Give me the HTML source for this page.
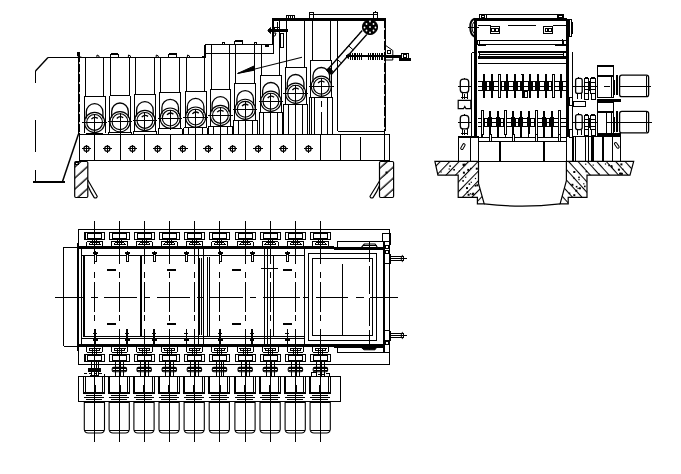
<!DOCTYPE html>
<html><head><meta charset="utf-8"><title>Drawing</title>
<style>
html,body{margin:0;padding:0;background:#fff;}
body{width:681px;height:474px;overflow:hidden;font-family:"Liberation Sans",sans-serif;}
svg{display:block;}
</style></head><body>
<svg width="681" height="474" viewBox="0 0 681 474">
<defs>
<pattern id="h1" width="8.2" height="8.2" patternUnits="userSpaceOnUse" patternTransform="rotate(-42)"><line x1="0" y1="2" x2="8.2" y2="2" stroke="#000" stroke-width="1.3"/></pattern>
<pattern id="h2" width="7" height="7" patternUnits="userSpaceOnUse" patternTransform="rotate(48)"><line x1="0" y1="0.5" x2="7" y2="0.5" stroke="#000" stroke-width="1.1"/></pattern>
<pattern id="h3" width="6.8" height="6.8" patternUnits="userSpaceOnUse" patternTransform="rotate(-46)"><line x1="0" y1="0.5" x2="6.8" y2="0.5" stroke="#000" stroke-width="1.1"/></pattern>
</defs>
<rect x="0" y="0" width="681" height="474" fill="#fff"/>
<line x1="48.00" y1="57.50" x2="205.00" y2="57.50" stroke="#000" stroke-width="1" shape-rendering="crispEdges"/>
<line x1="48.00" y1="57.50" x2="35.50" y2="71.00" stroke="#000" stroke-width="1.4"/>
<line x1="35.50" y1="71.00" x2="35.50" y2="83.00" stroke="#000" stroke-width="1" shape-rendering="crispEdges"/>
<line x1="35.50" y1="120.00" x2="35.50" y2="152.00" stroke="#000" stroke-width="1" shape-rendering="crispEdges"/>
<line x1="35.50" y1="170.00" x2="35.50" y2="182.00" stroke="#000" stroke-width="1" shape-rendering="crispEdges"/>
<line x1="33.00" y1="182.00" x2="65.00" y2="182.00" stroke="#000" stroke-width="2" shape-rendering="crispEdges"/>
<line x1="62.50" y1="181.50" x2="78.50" y2="134.00" stroke="#000" stroke-width="1.5"/>
<line x1="79.00" y1="52.00" x2="79.00" y2="134.50" stroke="#000" stroke-width="2" shape-rendering="crispEdges"/>
<path d="M77.5,52 L77.5,56 L82,57.5" fill="none" stroke="#000" stroke-width="1" />
<path d="M96.8,57.5 L97,55 L98.8,55.8 L99.2,57.5" fill="none" stroke="#000" stroke-width="1" />
<path d="M128.3,57.5 L128.5,55 L130.3,55.8 L130.7,57.5" fill="none" stroke="#000" stroke-width="1" />
<path d="M156.10000000000002,57.5 L156.3,55 L158.10000000000002,55.8 L158.5,57.5" fill="none" stroke="#000" stroke-width="1" />
<path d="M187.3,57.5 L187.5,55 L189.3,55.8 L189.7,57.5" fill="none" stroke="#000" stroke-width="1" />
<rect x="110.50" y="54.00" width="7.50" height="3.50" fill="none" stroke="#000" stroke-width="1" shape-rendering="crispEdges"/>
<line x1="110.50" y1="54.00" x2="118.00" y2="54.00" stroke="#000" stroke-width="1.5" shape-rendering="crispEdges"/>
<rect x="168.50" y="54.00" width="8.00" height="3.50" fill="none" stroke="#000" stroke-width="1" shape-rendering="crispEdges"/>
<line x1="168.50" y1="54.00" x2="176.50" y2="54.00" stroke="#000" stroke-width="1.5" shape-rendering="crispEdges"/>
<line x1="205.00" y1="44.50" x2="205.00" y2="57.50" stroke="#000" stroke-width="2" shape-rendering="crispEdges"/>
<line x1="201.50" y1="57.00" x2="205.00" y2="57.00" stroke="#000" stroke-width="2" shape-rendering="crispEdges"/>
<line x1="205.00" y1="44.50" x2="272.50" y2="44.50" stroke="#000" stroke-width="1" shape-rendering="crispEdges"/>
<line x1="205.00" y1="53.50" x2="273.50" y2="53.50" stroke="#000" stroke-width="1" shape-rendering="crispEdges"/>
<line x1="273.50" y1="44.50" x2="273.50" y2="53.50" stroke="#000" stroke-width="1" shape-rendering="crispEdges"/>
<line x1="211.50" y1="44.50" x2="211.50" y2="53.50" stroke="#000" stroke-width="1" shape-rendering="crispEdges"/>
<rect x="222.30" y="42.50" width="2.50" height="2.00" fill="none" stroke="#000" stroke-width="1" shape-rendering="crispEdges"/>
<rect x="234.50" y="41.00" width="8.00" height="3.50" fill="none" stroke="#000" stroke-width="1" shape-rendering="crispEdges"/>
<line x1="234.50" y1="41.00" x2="242.50" y2="41.00" stroke="#000" stroke-width="1.5" shape-rendering="crispEdges"/>
<rect x="254.30" y="42.30" width="2.50" height="2.20" fill="none" stroke="#000" stroke-width="1" shape-rendering="crispEdges"/>
<line x1="264.50" y1="46.20" x2="269.00" y2="46.20" stroke="#000" stroke-width="1.5" shape-rendering="crispEdges"/>
<line x1="272.50" y1="19.50" x2="272.50" y2="44.50" stroke="#000" stroke-width="2" shape-rendering="crispEdges"/>
<line x1="271.50" y1="19.50" x2="386.00" y2="19.50" stroke="#000" stroke-width="2.7" shape-rendering="crispEdges"/>
<line x1="385.00" y1="19.00" x2="385.00" y2="131.00" stroke="#000" stroke-width="2" shape-rendering="crispEdges"/>
<line x1="309.00" y1="14.70" x2="377.50" y2="14.70" stroke="#000" stroke-width="1" shape-rendering="crispEdges"/>
<rect x="309.00" y="12.50" width="4.00" height="6.50" fill="none" stroke="#000" stroke-width="1" shape-rendering="crispEdges"/>
<rect x="373.50" y="12.50" width="4.00" height="6.50" fill="none" stroke="#000" stroke-width="1" shape-rendering="crispEdges"/>
<line x1="375.50" y1="10.50" x2="375.50" y2="12.50" stroke="#000" stroke-width="1" shape-rendering="crispEdges"/>
<rect x="286.50" y="15.50" width="8.00" height="4.00" fill="none" stroke="#000" stroke-width="1" shape-rendering="crispEdges"/>
<line x1="286.50" y1="15.50" x2="294.50" y2="15.50" stroke="#000" stroke-width="1.5" shape-rendering="crispEdges"/>
<line x1="288.50" y1="15.50" x2="288.50" y2="19.50" stroke="#000" stroke-width="1" shape-rendering="crispEdges"/>
<line x1="290.50" y1="15.50" x2="290.50" y2="19.50" stroke="#000" stroke-width="1" shape-rendering="crispEdges"/>
<line x1="292.50" y1="15.50" x2="292.50" y2="19.50" stroke="#000" stroke-width="1" shape-rendering="crispEdges"/>
<line x1="268.00" y1="30.50" x2="288.00" y2="30.50" stroke="#000" stroke-width="2.5" shape-rendering="crispEdges"/>
<path d="M268,30.5 L270.5,27.5 L270.5,33.5 Z" fill="#000" stroke="#000" stroke-width="1" />
<rect x="280.30" y="33.00" width="3.50" height="14.00" fill="none" stroke="#000" stroke-width="1" shape-rendering="crispEdges"/>
<line x1="277.50" y1="22.00" x2="277.50" y2="30.00" stroke="#000" stroke-width="1" shape-rendering="crispEdges"/>
<line x1="279.00" y1="22.00" x2="279.00" y2="30.00" stroke="#000" stroke-width="1" shape-rendering="crispEdges"/>
<path d="M273.5,33 L276,33 L275,36 L273.5,36" fill="none" stroke="#000" stroke-width="1" />
<rect x="274.00" y="27.00" width="5.00" height="3.00" fill="none" stroke="#000" stroke-width="1" shape-rendering="crispEdges"/>
<line x1="85.30" y1="57.50" x2="85.30" y2="96.40" stroke="#000" stroke-width="1" shape-rendering="crispEdges"/>
<line x1="103.90" y1="57.50" x2="103.90" y2="96.40" stroke="#000" stroke-width="1" shape-rendering="crispEdges"/>
<line x1="84.20" y1="96.40" x2="105.00" y2="96.40" stroke="#000" stroke-width="1" shape-rendering="crispEdges"/>
<line x1="84.20" y1="96.40" x2="84.20" y2="133.20" stroke="#000" stroke-width="1" shape-rendering="crispEdges"/>
<line x1="105.00" y1="96.40" x2="105.00" y2="133.20" stroke="#000" stroke-width="1" shape-rendering="crispEdges"/>
<path d="M86.30,118.40 L86.30,112.00 A8.3,8.3 0 0 1 102.90,112.00 L102.90,118.40" fill="none" stroke="#000" stroke-width="1.3" />
<circle cx="94.60" cy="122.40" r="10.10" fill="none" stroke="#000" stroke-width="1.15"/>
<circle cx="94.60" cy="122.40" r="7.90" fill="none" stroke="#000" stroke-width="1.15"/>
<line x1="82.40" y1="122.40" x2="106.80" y2="122.40" stroke="#000" stroke-width="1" shape-rendering="crispEdges"/>
<line x1="94.60" y1="113.90" x2="94.60" y2="134.40" stroke="#000" stroke-width="1" shape-rendering="crispEdges"/>
<path d="M91.40,119.20 Q94.10,115.90 97.80,118.40" fill="none" stroke="#000" stroke-width="1.3" />
<line x1="86.00" y1="133.70" x2="103.00" y2="133.70" stroke="#000" stroke-width="2" shape-rendering="crispEdges"/>
<line x1="110.70" y1="57.50" x2="110.70" y2="95.70" stroke="#000" stroke-width="1" shape-rendering="crispEdges"/>
<line x1="129.30" y1="57.50" x2="129.30" y2="95.70" stroke="#000" stroke-width="1" shape-rendering="crispEdges"/>
<line x1="109.60" y1="95.70" x2="130.40" y2="95.70" stroke="#000" stroke-width="1" shape-rendering="crispEdges"/>
<line x1="109.60" y1="95.70" x2="109.60" y2="132.50" stroke="#000" stroke-width="1" shape-rendering="crispEdges"/>
<line x1="130.40" y1="95.70" x2="130.40" y2="132.50" stroke="#000" stroke-width="1" shape-rendering="crispEdges"/>
<path d="M111.70,117.70 L111.70,111.30 A8.3,8.3 0 0 1 128.30,111.30 L128.30,117.70" fill="none" stroke="#000" stroke-width="1.3" />
<circle cx="120.00" cy="121.70" r="10.10" fill="none" stroke="#000" stroke-width="1.15"/>
<circle cx="120.00" cy="121.70" r="7.90" fill="none" stroke="#000" stroke-width="1.15"/>
<line x1="107.80" y1="121.70" x2="132.20" y2="121.70" stroke="#000" stroke-width="1" shape-rendering="crispEdges"/>
<line x1="120.00" y1="113.20" x2="120.00" y2="133.70" stroke="#000" stroke-width="1" shape-rendering="crispEdges"/>
<path d="M116.80,118.50 Q119.50,115.20 123.20,117.70" fill="none" stroke="#000" stroke-width="1.3" />
<line x1="108.20" y1="132.50" x2="131.80" y2="132.50" stroke="#000" stroke-width="1" shape-rendering="crispEdges"/>
<line x1="108.20" y1="132.50" x2="108.20" y2="134.50" stroke="#000" stroke-width="1" shape-rendering="crispEdges"/>
<line x1="131.80" y1="132.50" x2="131.80" y2="134.50" stroke="#000" stroke-width="1" shape-rendering="crispEdges"/>
<line x1="135.60" y1="57.50" x2="135.60" y2="94.40" stroke="#000" stroke-width="1" shape-rendering="crispEdges"/>
<line x1="154.20" y1="57.50" x2="154.20" y2="94.40" stroke="#000" stroke-width="1" shape-rendering="crispEdges"/>
<line x1="134.50" y1="94.40" x2="155.30" y2="94.40" stroke="#000" stroke-width="1" shape-rendering="crispEdges"/>
<line x1="134.50" y1="94.40" x2="134.50" y2="131.20" stroke="#000" stroke-width="1" shape-rendering="crispEdges"/>
<line x1="155.30" y1="94.40" x2="155.30" y2="131.20" stroke="#000" stroke-width="1" shape-rendering="crispEdges"/>
<path d="M136.60,116.40 L136.60,110.00 A8.3,8.3 0 0 1 153.20,110.00 L153.20,116.40" fill="none" stroke="#000" stroke-width="1.3" />
<circle cx="144.90" cy="120.40" r="10.10" fill="none" stroke="#000" stroke-width="1.15"/>
<circle cx="144.90" cy="120.40" r="7.90" fill="none" stroke="#000" stroke-width="1.15"/>
<line x1="132.70" y1="120.40" x2="157.10" y2="120.40" stroke="#000" stroke-width="1" shape-rendering="crispEdges"/>
<line x1="144.90" y1="111.90" x2="144.90" y2="132.40" stroke="#000" stroke-width="1" shape-rendering="crispEdges"/>
<path d="M141.70,117.20 Q144.40,113.90 148.10,116.40" fill="none" stroke="#000" stroke-width="1.3" />
<line x1="133.10" y1="131.20" x2="156.70" y2="131.20" stroke="#000" stroke-width="1" shape-rendering="crispEdges"/>
<line x1="133.10" y1="131.20" x2="133.10" y2="134.50" stroke="#000" stroke-width="1" shape-rendering="crispEdges"/>
<line x1="156.70" y1="131.20" x2="156.70" y2="134.50" stroke="#000" stroke-width="1" shape-rendering="crispEdges"/>
<line x1="160.90" y1="57.50" x2="160.90" y2="92.10" stroke="#000" stroke-width="1" shape-rendering="crispEdges"/>
<line x1="179.50" y1="57.50" x2="179.50" y2="92.10" stroke="#000" stroke-width="1" shape-rendering="crispEdges"/>
<line x1="159.80" y1="92.10" x2="180.60" y2="92.10" stroke="#000" stroke-width="1" shape-rendering="crispEdges"/>
<line x1="159.80" y1="92.10" x2="159.80" y2="128.90" stroke="#000" stroke-width="1" shape-rendering="crispEdges"/>
<line x1="180.60" y1="92.10" x2="180.60" y2="128.90" stroke="#000" stroke-width="1" shape-rendering="crispEdges"/>
<path d="M161.90,114.10 L161.90,107.70 A8.3,8.3 0 0 1 178.50,107.70 L178.50,114.10" fill="none" stroke="#000" stroke-width="1.3" />
<circle cx="170.20" cy="118.10" r="10.10" fill="none" stroke="#000" stroke-width="1.15"/>
<circle cx="170.20" cy="118.10" r="7.90" fill="none" stroke="#000" stroke-width="1.15"/>
<line x1="158.00" y1="118.10" x2="182.40" y2="118.10" stroke="#000" stroke-width="1" shape-rendering="crispEdges"/>
<line x1="170.20" y1="109.60" x2="170.20" y2="130.10" stroke="#000" stroke-width="1" shape-rendering="crispEdges"/>
<path d="M167.00,114.90 Q169.70,111.60 173.40,114.10" fill="none" stroke="#000" stroke-width="1.3" />
<line x1="158.40" y1="128.90" x2="182.00" y2="128.90" stroke="#000" stroke-width="1" shape-rendering="crispEdges"/>
<line x1="158.40" y1="128.90" x2="158.40" y2="134.50" stroke="#000" stroke-width="1" shape-rendering="crispEdges"/>
<line x1="182.00" y1="128.90" x2="182.00" y2="134.50" stroke="#000" stroke-width="1" shape-rendering="crispEdges"/>
<line x1="186.30" y1="57.50" x2="186.30" y2="91.10" stroke="#000" stroke-width="1" shape-rendering="crispEdges"/>
<line x1="204.90" y1="57.50" x2="204.90" y2="91.10" stroke="#000" stroke-width="1" shape-rendering="crispEdges"/>
<line x1="185.20" y1="91.10" x2="206.00" y2="91.10" stroke="#000" stroke-width="1" shape-rendering="crispEdges"/>
<line x1="185.20" y1="91.10" x2="185.20" y2="127.90" stroke="#000" stroke-width="1" shape-rendering="crispEdges"/>
<line x1="206.00" y1="91.10" x2="206.00" y2="127.90" stroke="#000" stroke-width="1" shape-rendering="crispEdges"/>
<path d="M187.30,113.10 L187.30,106.70 A8.3,8.3 0 0 1 203.90,106.70 L203.90,113.10" fill="none" stroke="#000" stroke-width="1.3" />
<circle cx="195.60" cy="117.10" r="10.10" fill="none" stroke="#000" stroke-width="1.15"/>
<circle cx="195.60" cy="117.10" r="7.90" fill="none" stroke="#000" stroke-width="1.15"/>
<line x1="183.40" y1="117.10" x2="207.80" y2="117.10" stroke="#000" stroke-width="1" shape-rendering="crispEdges"/>
<line x1="195.60" y1="108.60" x2="195.60" y2="129.10" stroke="#000" stroke-width="1" shape-rendering="crispEdges"/>
<path d="M192.40,113.90 Q195.10,110.60 198.80,113.10" fill="none" stroke="#000" stroke-width="1.3" />
<line x1="183.80" y1="127.90" x2="207.40" y2="127.90" stroke="#000" stroke-width="1" shape-rendering="crispEdges"/>
<line x1="183.80" y1="127.90" x2="183.80" y2="134.50" stroke="#000" stroke-width="1" shape-rendering="crispEdges"/>
<line x1="207.40" y1="127.90" x2="207.40" y2="134.50" stroke="#000" stroke-width="1" shape-rendering="crispEdges"/>
<line x1="188.60" y1="127.90" x2="188.60" y2="134.50" stroke="#000" stroke-width="1" shape-rendering="crispEdges"/>
<line x1="195.60" y1="127.90" x2="195.60" y2="134.50" stroke="#000" stroke-width="1" shape-rendering="crispEdges"/>
<line x1="202.60" y1="127.90" x2="202.60" y2="134.50" stroke="#000" stroke-width="1" shape-rendering="crispEdges"/>
<line x1="211.10" y1="44.50" x2="211.10" y2="89.40" stroke="#000" stroke-width="1" shape-rendering="crispEdges"/>
<line x1="229.70" y1="44.50" x2="229.70" y2="89.40" stroke="#000" stroke-width="1" shape-rendering="crispEdges"/>
<line x1="210.00" y1="89.40" x2="230.80" y2="89.40" stroke="#000" stroke-width="1" shape-rendering="crispEdges"/>
<line x1="210.00" y1="89.40" x2="210.00" y2="126.20" stroke="#000" stroke-width="1" shape-rendering="crispEdges"/>
<line x1="230.80" y1="89.40" x2="230.80" y2="126.20" stroke="#000" stroke-width="1" shape-rendering="crispEdges"/>
<path d="M212.10,111.40 L212.10,105.00 A8.3,8.3 0 0 1 228.70,105.00 L228.70,111.40" fill="none" stroke="#000" stroke-width="1.3" />
<circle cx="220.40" cy="115.40" r="10.10" fill="none" stroke="#000" stroke-width="1.15"/>
<circle cx="220.40" cy="115.40" r="7.90" fill="none" stroke="#000" stroke-width="1.15"/>
<line x1="208.20" y1="115.40" x2="232.60" y2="115.40" stroke="#000" stroke-width="1" shape-rendering="crispEdges"/>
<line x1="220.40" y1="106.90" x2="220.40" y2="127.40" stroke="#000" stroke-width="1" shape-rendering="crispEdges"/>
<path d="M217.20,112.20 Q219.90,108.90 223.60,111.40" fill="none" stroke="#000" stroke-width="1.3" />
<line x1="208.60" y1="126.20" x2="232.20" y2="126.20" stroke="#000" stroke-width="1" shape-rendering="crispEdges"/>
<line x1="208.60" y1="126.20" x2="208.60" y2="134.50" stroke="#000" stroke-width="1" shape-rendering="crispEdges"/>
<line x1="232.20" y1="126.20" x2="232.20" y2="134.50" stroke="#000" stroke-width="1" shape-rendering="crispEdges"/>
<line x1="213.40" y1="126.20" x2="213.40" y2="134.50" stroke="#000" stroke-width="1" shape-rendering="crispEdges"/>
<line x1="220.40" y1="126.20" x2="220.40" y2="134.50" stroke="#000" stroke-width="1" shape-rendering="crispEdges"/>
<line x1="227.40" y1="126.20" x2="227.40" y2="134.50" stroke="#000" stroke-width="1" shape-rendering="crispEdges"/>
<line x1="235.90" y1="44.50" x2="235.90" y2="83.30" stroke="#000" stroke-width="1" shape-rendering="crispEdges"/>
<line x1="254.50" y1="44.50" x2="254.50" y2="83.30" stroke="#000" stroke-width="1" shape-rendering="crispEdges"/>
<line x1="234.80" y1="83.30" x2="255.60" y2="83.30" stroke="#000" stroke-width="1" shape-rendering="crispEdges"/>
<line x1="234.80" y1="83.30" x2="234.80" y2="120.10" stroke="#000" stroke-width="1" shape-rendering="crispEdges"/>
<line x1="255.60" y1="83.30" x2="255.60" y2="120.10" stroke="#000" stroke-width="1" shape-rendering="crispEdges"/>
<path d="M236.90,105.30 L236.90,98.90 A8.3,8.3 0 0 1 253.50,98.90 L253.50,105.30" fill="none" stroke="#000" stroke-width="1.3" />
<circle cx="245.20" cy="109.30" r="10.10" fill="none" stroke="#000" stroke-width="1.15"/>
<circle cx="245.20" cy="109.30" r="7.90" fill="none" stroke="#000" stroke-width="1.15"/>
<line x1="233.00" y1="109.30" x2="257.40" y2="109.30" stroke="#000" stroke-width="1" shape-rendering="crispEdges"/>
<line x1="245.20" y1="100.80" x2="245.20" y2="121.30" stroke="#000" stroke-width="1" shape-rendering="crispEdges"/>
<path d="M242.00,106.10 Q244.70,102.80 248.40,105.30" fill="none" stroke="#000" stroke-width="1.3" />
<line x1="233.40" y1="120.10" x2="257.00" y2="120.10" stroke="#000" stroke-width="1" shape-rendering="crispEdges"/>
<line x1="233.40" y1="120.10" x2="233.40" y2="134.50" stroke="#000" stroke-width="1" shape-rendering="crispEdges"/>
<line x1="257.00" y1="120.10" x2="257.00" y2="134.50" stroke="#000" stroke-width="1" shape-rendering="crispEdges"/>
<line x1="238.20" y1="120.10" x2="238.20" y2="134.50" stroke="#000" stroke-width="1" shape-rendering="crispEdges"/>
<line x1="245.20" y1="120.10" x2="245.20" y2="134.50" stroke="#000" stroke-width="1" shape-rendering="crispEdges"/>
<line x1="252.20" y1="120.10" x2="252.20" y2="134.50" stroke="#000" stroke-width="1" shape-rendering="crispEdges"/>
<line x1="261.50" y1="44.50" x2="261.50" y2="75.20" stroke="#000" stroke-width="1" shape-rendering="crispEdges"/>
<line x1="279.80" y1="19.50" x2="279.80" y2="75.20" stroke="#000" stroke-width="1" shape-rendering="crispEdges"/>
<line x1="260.50" y1="75.20" x2="281.30" y2="75.20" stroke="#000" stroke-width="1" shape-rendering="crispEdges"/>
<line x1="260.50" y1="75.20" x2="260.50" y2="112.00" stroke="#000" stroke-width="1" shape-rendering="crispEdges"/>
<line x1="281.30" y1="75.20" x2="281.30" y2="112.00" stroke="#000" stroke-width="1" shape-rendering="crispEdges"/>
<path d="M262.60,97.20 L262.60,90.80 A8.3,8.3 0 0 1 279.20,90.80 L279.20,97.20" fill="none" stroke="#000" stroke-width="1.3" />
<circle cx="270.90" cy="101.20" r="10.10" fill="none" stroke="#000" stroke-width="1.15"/>
<circle cx="270.90" cy="101.20" r="7.90" fill="none" stroke="#000" stroke-width="1.15"/>
<line x1="258.70" y1="101.20" x2="283.10" y2="101.20" stroke="#000" stroke-width="1" shape-rendering="crispEdges"/>
<line x1="270.90" y1="92.70" x2="270.90" y2="113.20" stroke="#000" stroke-width="1" shape-rendering="crispEdges"/>
<path d="M267.70,98.00 Q270.40,94.70 274.10,97.20" fill="none" stroke="#000" stroke-width="1.3" />
<line x1="259.10" y1="112.00" x2="282.70" y2="112.00" stroke="#000" stroke-width="1" shape-rendering="crispEdges"/>
<line x1="259.10" y1="112.00" x2="259.10" y2="134.50" stroke="#000" stroke-width="1" shape-rendering="crispEdges"/>
<line x1="282.70" y1="112.00" x2="282.70" y2="134.50" stroke="#000" stroke-width="1" shape-rendering="crispEdges"/>
<line x1="263.90" y1="112.00" x2="263.90" y2="134.50" stroke="#000" stroke-width="1" shape-rendering="crispEdges"/>
<line x1="270.90" y1="112.00" x2="270.90" y2="134.50" stroke="#000" stroke-width="1" shape-rendering="crispEdges"/>
<line x1="277.90" y1="112.00" x2="277.90" y2="134.50" stroke="#000" stroke-width="1" shape-rendering="crispEdges"/>
<line x1="286.30" y1="19.50" x2="286.30" y2="67.20" stroke="#000" stroke-width="1" shape-rendering="crispEdges"/>
<line x1="304.90" y1="19.50" x2="304.90" y2="67.20" stroke="#000" stroke-width="1" shape-rendering="crispEdges"/>
<line x1="285.20" y1="67.20" x2="306.00" y2="67.20" stroke="#000" stroke-width="1" shape-rendering="crispEdges"/>
<line x1="285.20" y1="67.20" x2="285.20" y2="104.00" stroke="#000" stroke-width="1" shape-rendering="crispEdges"/>
<line x1="306.00" y1="67.20" x2="306.00" y2="104.00" stroke="#000" stroke-width="1" shape-rendering="crispEdges"/>
<path d="M287.30,89.20 L287.30,82.80 A8.3,8.3 0 0 1 303.90,82.80 L303.90,89.20" fill="none" stroke="#000" stroke-width="1.3" />
<circle cx="295.60" cy="93.20" r="10.10" fill="none" stroke="#000" stroke-width="1.15"/>
<circle cx="295.60" cy="93.20" r="7.90" fill="none" stroke="#000" stroke-width="1.15"/>
<line x1="283.40" y1="93.20" x2="307.80" y2="93.20" stroke="#000" stroke-width="1" shape-rendering="crispEdges"/>
<line x1="295.60" y1="84.70" x2="295.60" y2="105.20" stroke="#000" stroke-width="1" shape-rendering="crispEdges"/>
<path d="M292.40,90.00 Q295.10,86.70 298.80,89.20" fill="none" stroke="#000" stroke-width="1.3" />
<line x1="283.80" y1="104.00" x2="307.40" y2="104.00" stroke="#000" stroke-width="1" shape-rendering="crispEdges"/>
<line x1="283.80" y1="104.00" x2="283.80" y2="134.50" stroke="#000" stroke-width="1" shape-rendering="crispEdges"/>
<line x1="307.40" y1="104.00" x2="307.40" y2="134.50" stroke="#000" stroke-width="1" shape-rendering="crispEdges"/>
<line x1="288.60" y1="104.00" x2="288.60" y2="134.50" stroke="#000" stroke-width="1" shape-rendering="crispEdges"/>
<line x1="295.60" y1="104.00" x2="295.60" y2="134.50" stroke="#000" stroke-width="1" shape-rendering="crispEdges"/>
<line x1="302.60" y1="104.00" x2="302.60" y2="134.50" stroke="#000" stroke-width="1" shape-rendering="crispEdges"/>
<line x1="312.00" y1="19.50" x2="312.00" y2="60.20" stroke="#000" stroke-width="1" shape-rendering="crispEdges"/>
<line x1="330.60" y1="19.50" x2="330.60" y2="60.20" stroke="#000" stroke-width="1" shape-rendering="crispEdges"/>
<line x1="310.90" y1="60.20" x2="331.70" y2="60.20" stroke="#000" stroke-width="1" shape-rendering="crispEdges"/>
<line x1="310.90" y1="60.20" x2="310.90" y2="97.00" stroke="#000" stroke-width="1" shape-rendering="crispEdges"/>
<line x1="331.70" y1="60.20" x2="331.70" y2="97.00" stroke="#000" stroke-width="1" shape-rendering="crispEdges"/>
<path d="M313.00,82.20 L313.00,75.80 A8.3,8.3 0 0 1 329.60,75.80 L329.60,82.20" fill="none" stroke="#000" stroke-width="1.3" />
<circle cx="321.30" cy="86.20" r="10.10" fill="none" stroke="#000" stroke-width="1.15"/>
<circle cx="321.30" cy="86.20" r="7.90" fill="none" stroke="#000" stroke-width="1.15"/>
<line x1="309.10" y1="86.20" x2="333.50" y2="86.20" stroke="#000" stroke-width="1" shape-rendering="crispEdges"/>
<line x1="321.30" y1="77.70" x2="321.30" y2="98.20" stroke="#000" stroke-width="1" shape-rendering="crispEdges"/>
<path d="M318.10,83.00 Q320.80,79.70 324.50,82.20" fill="none" stroke="#000" stroke-width="1.3" />
<line x1="309.00" y1="97.00" x2="332.60" y2="97.00" stroke="#000" stroke-width="1" shape-rendering="crispEdges"/>
<line x1="309.00" y1="97.00" x2="309.00" y2="134.50" stroke="#000" stroke-width="1" shape-rendering="crispEdges"/>
<line x1="332.60" y1="97.00" x2="332.60" y2="134.50" stroke="#000" stroke-width="1" shape-rendering="crispEdges"/>
<line x1="311.00" y1="97.00" x2="311.00" y2="134.50" stroke="#000" stroke-width="1" shape-rendering="crispEdges"/>
<line x1="314.30" y1="97.00" x2="314.30" y2="134.50" stroke="#000" stroke-width="1" shape-rendering="crispEdges"/>
<line x1="327.80" y1="97.00" x2="327.80" y2="134.50" stroke="#000" stroke-width="1" shape-rendering="crispEdges"/>
<line x1="321.30" y1="101.00" x2="321.30" y2="107.00" stroke="#000" stroke-width="1.3" shape-rendering="crispEdges"/>
<line x1="321.30" y1="112.00" x2="321.30" y2="134.50" stroke="#000" stroke-width="1.3" shape-rendering="crispEdges"/>
<line x1="337.70" y1="19.50" x2="337.70" y2="131.00" stroke="#000" stroke-width="1" shape-rendering="crispEdges"/>
<line x1="337.70" y1="131.00" x2="385.00" y2="131.00" stroke="#000" stroke-width="1" shape-rendering="crispEdges"/>
<line x1="79.00" y1="134.50" x2="389.50" y2="134.50" stroke="#000" stroke-width="1" shape-rendering="crispEdges"/>
<line x1="79.00" y1="160.50" x2="389.50" y2="160.50" stroke="#000" stroke-width="1" shape-rendering="crispEdges"/>
<line x1="79.00" y1="134.50" x2="79.00" y2="160.50" stroke="#000" stroke-width="1" shape-rendering="crispEdges"/>
<line x1="94.60" y1="134.50" x2="94.60" y2="160.50" stroke="#000" stroke-width="1" shape-rendering="crispEdges"/>
<line x1="120.00" y1="134.50" x2="120.00" y2="160.50" stroke="#000" stroke-width="1" shape-rendering="crispEdges"/>
<line x1="144.90" y1="134.50" x2="144.90" y2="160.50" stroke="#000" stroke-width="1" shape-rendering="crispEdges"/>
<line x1="170.20" y1="134.50" x2="170.20" y2="160.50" stroke="#000" stroke-width="1" shape-rendering="crispEdges"/>
<line x1="195.60" y1="134.50" x2="195.60" y2="160.50" stroke="#000" stroke-width="1" shape-rendering="crispEdges"/>
<line x1="220.40" y1="134.50" x2="220.40" y2="160.50" stroke="#000" stroke-width="1" shape-rendering="crispEdges"/>
<line x1="245.20" y1="134.50" x2="245.20" y2="160.50" stroke="#000" stroke-width="1" shape-rendering="crispEdges"/>
<line x1="270.90" y1="134.50" x2="270.90" y2="160.50" stroke="#000" stroke-width="1" shape-rendering="crispEdges"/>
<line x1="295.60" y1="134.50" x2="295.60" y2="160.50" stroke="#000" stroke-width="1" shape-rendering="crispEdges"/>
<line x1="320.80" y1="134.50" x2="320.80" y2="160.50" stroke="#000" stroke-width="1" shape-rendering="crispEdges"/>
<line x1="340.50" y1="134.50" x2="340.50" y2="160.50" stroke="#000" stroke-width="1" shape-rendering="crispEdges"/>
<line x1="360.50" y1="137.00" x2="360.50" y2="160.50" stroke="#000" stroke-width="1" shape-rendering="crispEdges"/>
<line x1="384.50" y1="131.00" x2="384.50" y2="160.50" stroke="#000" stroke-width="1" shape-rendering="crispEdges"/>
<line x1="389.50" y1="134.50" x2="389.50" y2="160.50" stroke="#000" stroke-width="1" shape-rendering="crispEdges"/>
<circle cx="86.50" cy="148.70" r="2.60" fill="none" stroke="#000" stroke-width="1.2"/>
<line x1="81.90" y1="148.70" x2="91.10" y2="148.70" stroke="#000" stroke-width="1" shape-rendering="crispEdges"/>
<line x1="86.50" y1="144.50" x2="86.50" y2="152.90" stroke="#000" stroke-width="1" shape-rendering="crispEdges"/>
<circle cx="107.30" cy="148.70" r="2.60" fill="none" stroke="#000" stroke-width="1.2"/>
<line x1="102.70" y1="148.70" x2="111.90" y2="148.70" stroke="#000" stroke-width="1" shape-rendering="crispEdges"/>
<line x1="107.30" y1="144.50" x2="107.30" y2="152.90" stroke="#000" stroke-width="1" shape-rendering="crispEdges"/>
<circle cx="132.45" cy="148.70" r="2.60" fill="none" stroke="#000" stroke-width="1.2"/>
<line x1="127.85" y1="148.70" x2="137.05" y2="148.70" stroke="#000" stroke-width="1" shape-rendering="crispEdges"/>
<line x1="132.45" y1="144.50" x2="132.45" y2="152.90" stroke="#000" stroke-width="1" shape-rendering="crispEdges"/>
<circle cx="157.55" cy="148.70" r="2.60" fill="none" stroke="#000" stroke-width="1.2"/>
<line x1="152.95" y1="148.70" x2="162.15" y2="148.70" stroke="#000" stroke-width="1" shape-rendering="crispEdges"/>
<line x1="157.55" y1="144.50" x2="157.55" y2="152.90" stroke="#000" stroke-width="1" shape-rendering="crispEdges"/>
<circle cx="182.90" cy="148.70" r="2.60" fill="none" stroke="#000" stroke-width="1.2"/>
<line x1="178.30" y1="148.70" x2="187.50" y2="148.70" stroke="#000" stroke-width="1" shape-rendering="crispEdges"/>
<line x1="182.90" y1="144.50" x2="182.90" y2="152.90" stroke="#000" stroke-width="1" shape-rendering="crispEdges"/>
<circle cx="208.00" cy="148.70" r="2.60" fill="none" stroke="#000" stroke-width="1.2"/>
<line x1="203.40" y1="148.70" x2="212.60" y2="148.70" stroke="#000" stroke-width="1" shape-rendering="crispEdges"/>
<line x1="208.00" y1="144.50" x2="208.00" y2="152.90" stroke="#000" stroke-width="1" shape-rendering="crispEdges"/>
<circle cx="232.80" cy="148.70" r="2.60" fill="none" stroke="#000" stroke-width="1.2"/>
<line x1="228.20" y1="148.70" x2="237.40" y2="148.70" stroke="#000" stroke-width="1" shape-rendering="crispEdges"/>
<line x1="232.80" y1="144.50" x2="232.80" y2="152.90" stroke="#000" stroke-width="1" shape-rendering="crispEdges"/>
<circle cx="258.05" cy="148.70" r="2.60" fill="none" stroke="#000" stroke-width="1.2"/>
<line x1="253.45" y1="148.70" x2="262.65" y2="148.70" stroke="#000" stroke-width="1" shape-rendering="crispEdges"/>
<line x1="258.05" y1="144.50" x2="258.05" y2="152.90" stroke="#000" stroke-width="1" shape-rendering="crispEdges"/>
<circle cx="283.25" cy="148.70" r="2.60" fill="none" stroke="#000" stroke-width="1.2"/>
<line x1="278.65" y1="148.70" x2="287.85" y2="148.70" stroke="#000" stroke-width="1" shape-rendering="crispEdges"/>
<line x1="283.25" y1="144.50" x2="283.25" y2="152.90" stroke="#000" stroke-width="1" shape-rendering="crispEdges"/>
<circle cx="308.45" cy="148.70" r="2.60" fill="none" stroke="#000" stroke-width="1.2"/>
<line x1="303.85" y1="148.70" x2="313.05" y2="148.70" stroke="#000" stroke-width="1" shape-rendering="crispEdges"/>
<line x1="308.45" y1="144.50" x2="308.45" y2="152.90" stroke="#000" stroke-width="1" shape-rendering="crispEdges"/>
<line x1="302.00" y1="57.20" x2="238.00" y2="73.20" stroke="#000" stroke-width="1.1"/>
<path d="M237.5,73.5 L254,66 L254.3,70.2 Z" fill="#000" stroke="#000" stroke-width="1" />
<path d="M331.75,73.99 L366.75,34.49 M327.25,70.01 L362.25,30.51 M331.75,73.99 L327.25,70.01" fill="none" stroke="#000" stroke-width="1.3" />
<line x1="336.00" y1="60.00" x2="362.00" y2="30.50" stroke="#000" stroke-width="1" stroke-dasharray="2 2"/>
<line x1="336.66" y1="58.88" x2="341.66" y2="63.28" stroke="#000" stroke-width="1"/>
<line x1="348.39" y1="45.62" x2="353.39" y2="50.02" stroke="#000" stroke-width="1"/>
<path d="M326.5,70 L330,74.5 L333,71.5 L329.5,67.5 Z" fill="#000" stroke="#000" stroke-width="1" />
<circle cx="370.00" cy="27.00" r="7.60" fill="#000" stroke="#000" stroke-width="1"/>
<circle cx="370" cy="27" r="0.9" fill="#fff"/>
<circle cx="366.5" cy="24" r="0.9" fill="#fff"/>
<circle cx="373.5" cy="24" r="0.9" fill="#fff"/>
<circle cx="366.5" cy="30.5" r="0.9" fill="#fff"/>
<circle cx="373.5" cy="30.5" r="0.9" fill="#fff"/>
<circle cx="370" cy="21.5" r="0.9" fill="#fff"/>
<circle cx="370" cy="32.5" r="0.9" fill="#fff"/>
<circle cx="364.5" cy="27.5" r="0.9" fill="#fff"/>
<circle cx="375.5" cy="27.5" r="0.9" fill="#fff"/>
<line x1="346.00" y1="56.30" x2="385.00" y2="56.30" stroke="#000" stroke-width="2" shape-rendering="crispEdges"/>
<path d="M346,56.3 L348.5,54 L348.5,58.6 Z" fill="#000" stroke="#000" stroke-width="1" />
<line x1="350.50" y1="52.80" x2="350.50" y2="59.60" stroke="#000" stroke-width="1.2" shape-rendering="crispEdges"/>
<line x1="352.75" y1="52.80" x2="352.75" y2="59.60" stroke="#000" stroke-width="1.2" shape-rendering="crispEdges"/>
<line x1="355.00" y1="52.80" x2="355.00" y2="59.60" stroke="#000" stroke-width="1.2" shape-rendering="crispEdges"/>
<line x1="357.25" y1="52.80" x2="357.25" y2="59.60" stroke="#000" stroke-width="1.2" shape-rendering="crispEdges"/>
<line x1="359.50" y1="52.80" x2="359.50" y2="59.60" stroke="#000" stroke-width="1.2" shape-rendering="crispEdges"/>
<line x1="361.75" y1="52.80" x2="361.75" y2="59.60" stroke="#000" stroke-width="1.2" shape-rendering="crispEdges"/>
<line x1="368.50" y1="52.80" x2="368.50" y2="59.60" stroke="#000" stroke-width="1.2" shape-rendering="crispEdges"/>
<line x1="370.75" y1="52.80" x2="370.75" y2="59.60" stroke="#000" stroke-width="1.2" shape-rendering="crispEdges"/>
<line x1="373.00" y1="52.80" x2="373.00" y2="59.60" stroke="#000" stroke-width="1.2" shape-rendering="crispEdges"/>
<line x1="375.25" y1="52.80" x2="375.25" y2="59.60" stroke="#000" stroke-width="1.2" shape-rendering="crispEdges"/>
<line x1="377.50" y1="52.80" x2="377.50" y2="59.60" stroke="#000" stroke-width="1.2" shape-rendering="crispEdges"/>
<line x1="379.75" y1="52.80" x2="379.75" y2="59.60" stroke="#000" stroke-width="1.2" shape-rendering="crispEdges"/>
<line x1="382.00" y1="52.80" x2="382.00" y2="59.60" stroke="#000" stroke-width="1.2" shape-rendering="crispEdges"/>
<path d="M385,45 L392.8,50.5 L392.8,60 L385,60" fill="none" stroke="#000" stroke-width="1" />
<rect x="387.30" y="50.30" width="3.20" height="3.20" fill="none" stroke="#000" stroke-width="1" shape-rendering="crispEdges"/>
<line x1="385.00" y1="56.30" x2="402.00" y2="56.30" stroke="#000" stroke-width="3" shape-rendering="crispEdges"/>
<rect x="401.50" y="53.50" width="6.50" height="6.00" fill="none" stroke="#000" stroke-width="1" shape-rendering="crispEdges"/>
<line x1="399.00" y1="59.50" x2="411.00" y2="59.50" stroke="#000" stroke-width="3" shape-rendering="crispEdges"/>
<rect x="403.50" y="54.80" width="2.50" height="2.70" fill="none" stroke="#000" stroke-width="1" shape-rendering="crispEdges"/>
<rect x="74.70" y="161.50" width="13.10" height="36.00" fill="url(#h1)" stroke="#000" stroke-width="1.2" rx="1.2"/>
<path d="M87.8,180 L97.2,196.3 Q96.6,198.8 94.2,197.6 Q90,191 87.8,185.5" fill="none" stroke="#000" stroke-width="1.2" />
<rect x="75.50" y="162.00" width="2.50" height="2.00" fill="none" stroke="#000" stroke-width="1" shape-rendering="crispEdges"/>
<rect x="379.50" y="161.50" width="14.10" height="36.00" fill="url(#h1)" stroke="#000" stroke-width="1.2" rx="1.2"/>
<path d="M379.5,181 L370,196.3 Q370.6,198.8 373,197.6 Q377.5,191 379.5,185.5" fill="none" stroke="#000" stroke-width="1.2" />
<rect x="385.5" y="171.5" width="2" height="2" fill="#000"/>
<line x1="79.60" y1="62.00" x2="79.60" y2="133.00" stroke="#fff" stroke-width="0.8" shape-rendering="crispEdges" stroke-dasharray="2 8"/>
<line x1="384.40" y1="28.00" x2="384.40" y2="130.00" stroke="#fff" stroke-width="0.8" shape-rendering="crispEdges" stroke-dasharray="2 9"/>
<line x1="479.00" y1="14.50" x2="564.00" y2="14.50" stroke="#000" stroke-width="1.5" shape-rendering="crispEdges"/>
<line x1="479.50" y1="14.50" x2="479.50" y2="19.00" stroke="#000" stroke-width="1" shape-rendering="crispEdges"/>
<line x1="563.50" y1="14.50" x2="563.50" y2="19.00" stroke="#000" stroke-width="1" shape-rendering="crispEdges"/>
<rect x="481.50" y="15.20" width="3.00" height="2.10" fill="none" stroke="#000" stroke-width="1" shape-rendering="crispEdges"/>
<rect x="558.80" y="15.20" width="3.40" height="2.10" fill="none" stroke="#000" stroke-width="1" shape-rendering="crispEdges"/>
<line x1="486.00" y1="15.00" x2="486.00" y2="18.00" stroke="#000" stroke-width="1" shape-rendering="crispEdges"/>
<line x1="557.00" y1="15.00" x2="557.00" y2="18.00" stroke="#000" stroke-width="1" shape-rendering="crispEdges"/>
<line x1="473.50" y1="19.30" x2="567.00" y2="19.30" stroke="#000" stroke-width="3" shape-rendering="crispEdges"/>
<line x1="475.80" y1="19.00" x2="475.80" y2="137.00" stroke="#000" stroke-width="3" shape-rendering="crispEdges"/>
<line x1="567.70" y1="19.00" x2="567.70" y2="137.00" stroke="#000" stroke-width="2.8" shape-rendering="crispEdges"/>
<line x1="572.80" y1="52.00" x2="572.80" y2="137.00" stroke="#000" stroke-width="1" shape-rendering="crispEdges"/>
<path d="M474.5,18.7 Q469.8,20.5 470.3,27.5 Q470.3,34.5 474.5,36.6" fill="none" stroke="#000" stroke-width="2" />
<path d="M474,22 Q472,24 472,27.5 Q472,31.5 474,33.5" fill="none" stroke="#000" stroke-width="1" />
<line x1="468.00" y1="27.20" x2="479.00" y2="27.20" stroke="#000" stroke-width="1" shape-rendering="crispEdges"/>
<rect x="569.00" y="19.20" width="2.20" height="16.80" fill="none" stroke="#000" stroke-width="1" shape-rendering="crispEdges"/>
<rect x="571.20" y="22.00" width="1.60" height="11.50" fill="none" stroke="#000" stroke-width="1" shape-rendering="crispEdges"/>
<line x1="477.50" y1="25.20" x2="491.00" y2="25.20" stroke="#000" stroke-width="1" shape-rendering="crispEdges"/>
<line x1="508.00" y1="25.20" x2="536.00" y2="25.20" stroke="#000" stroke-width="1" shape-rendering="crispEdges"/>
<line x1="553.00" y1="25.20" x2="566.50" y2="25.20" stroke="#000" stroke-width="1" shape-rendering="crispEdges"/>
<rect x="490.50" y="26.50" width="9.00" height="7.00" fill="none" stroke="#000" stroke-width="1" shape-rendering="crispEdges"/>
<rect x="491.80" y="28.00" width="2.60" height="3.50" fill="none" stroke="#000" stroke-width="1" shape-rendering="crispEdges"/>
<rect x="495.60" y="28.00" width="2.60" height="3.50" fill="none" stroke="#000" stroke-width="1" shape-rendering="crispEdges"/>
<rect x="543.70" y="26.50" width="9.00" height="7.00" fill="none" stroke="#000" stroke-width="1" shape-rendering="crispEdges"/>
<rect x="545.00" y="28.00" width="2.60" height="3.50" fill="none" stroke="#000" stroke-width="1" shape-rendering="crispEdges"/>
<rect x="548.80" y="28.00" width="2.60" height="3.50" fill="none" stroke="#000" stroke-width="1" shape-rendering="crispEdges"/>
<line x1="477.50" y1="40.50" x2="566.50" y2="40.50" stroke="#000" stroke-width="1" shape-rendering="crispEdges"/>
<line x1="481.00" y1="44.00" x2="563.20" y2="44.00" stroke="#000" stroke-width="1" shape-rendering="crispEdges"/>
<rect x="477.30" y="40.80" width="2.30" height="3.20" fill="none" stroke="#000" stroke-width="1" shape-rendering="crispEdges"/>
<rect x="563.70" y="40.80" width="2.30" height="3.20" fill="none" stroke="#000" stroke-width="1" shape-rendering="crispEdges"/>
<line x1="477.50" y1="45.00" x2="485.50" y2="45.00" stroke="#000" stroke-width="1.8" shape-rendering="crispEdges"/>
<line x1="555.30" y1="45.00" x2="566.50" y2="45.00" stroke="#000" stroke-width="1.8" shape-rendering="crispEdges"/>
<line x1="562.80" y1="38.50" x2="562.80" y2="44.00" stroke="#000" stroke-width="1" shape-rendering="crispEdges"/>
<line x1="477.50" y1="51.80" x2="566.50" y2="51.80" stroke="#000" stroke-width="2" shape-rendering="crispEdges"/>
<line x1="479.60" y1="54.50" x2="563.50" y2="54.50" stroke="#000" stroke-width="1" shape-rendering="crispEdges"/>
<line x1="479.60" y1="52.00" x2="479.60" y2="57.00" stroke="#000" stroke-width="1" shape-rendering="crispEdges"/>
<line x1="563.50" y1="52.00" x2="563.50" y2="57.00" stroke="#000" stroke-width="1" shape-rendering="crispEdges"/>
<line x1="477.50" y1="57.50" x2="566.50" y2="57.50" stroke="#000" stroke-width="2.6" shape-rendering="crispEdges"/>
<line x1="477.50" y1="63.30" x2="566.50" y2="63.30" stroke="#000" stroke-width="1" shape-rendering="crispEdges"/>
<line x1="471.50" y1="52.50" x2="471.50" y2="137.00" stroke="#000" stroke-width="1" shape-rendering="crispEdges"/>
<line x1="471.50" y1="52.50" x2="474.00" y2="52.50" stroke="#000" stroke-width="1" shape-rendering="crispEdges"/>
<line x1="477.50" y1="81.90" x2="566.50" y2="81.90" stroke="#000" stroke-width="1" shape-rendering="crispEdges"/>
<line x1="477.50" y1="86.40" x2="566.50" y2="86.40" stroke="#000" stroke-width="1" shape-rendering="crispEdges"/>
<line x1="477.50" y1="90.20" x2="566.50" y2="90.20" stroke="#000" stroke-width="1" shape-rendering="crispEdges"/>
<line x1="484.00" y1="74.30" x2="484.00" y2="97.60" stroke="#000" stroke-width="2" shape-rendering="crispEdges"/>
<line x1="484.00" y1="80.70" x2="484.00" y2="91.20" stroke="#000" stroke-width="3.6" shape-rendering="crispEdges"/>
<line x1="491.90" y1="74.30" x2="491.90" y2="97.60" stroke="#000" stroke-width="2" shape-rendering="crispEdges"/>
<line x1="491.90" y1="80.70" x2="491.90" y2="91.20" stroke="#000" stroke-width="3.6" shape-rendering="crispEdges"/>
<rect x="498.40" y="74.30" width="2.00" height="23.30" fill="#fff" stroke="#000" stroke-width="1" shape-rendering="crispEdges"/>
<line x1="506.90" y1="74.30" x2="506.90" y2="97.60" stroke="#000" stroke-width="2" shape-rendering="crispEdges"/>
<line x1="506.90" y1="80.70" x2="506.90" y2="91.20" stroke="#000" stroke-width="3.6" shape-rendering="crispEdges"/>
<line x1="515.00" y1="74.30" x2="515.00" y2="97.60" stroke="#000" stroke-width="2" shape-rendering="crispEdges"/>
<line x1="515.00" y1="80.70" x2="515.00" y2="91.20" stroke="#000" stroke-width="3.6" shape-rendering="crispEdges"/>
<line x1="522.60" y1="74.30" x2="522.60" y2="97.60" stroke="#000" stroke-width="2" shape-rendering="crispEdges"/>
<line x1="522.60" y1="80.70" x2="522.60" y2="91.20" stroke="#000" stroke-width="3.6" shape-rendering="crispEdges"/>
<line x1="529.90" y1="74.30" x2="529.90" y2="97.60" stroke="#000" stroke-width="2" shape-rendering="crispEdges"/>
<line x1="529.90" y1="80.70" x2="529.90" y2="91.20" stroke="#000" stroke-width="3.6" shape-rendering="crispEdges"/>
<line x1="537.90" y1="74.30" x2="537.90" y2="97.60" stroke="#000" stroke-width="2" shape-rendering="crispEdges"/>
<line x1="537.90" y1="80.70" x2="537.90" y2="91.20" stroke="#000" stroke-width="3.6" shape-rendering="crispEdges"/>
<line x1="545.80" y1="74.30" x2="545.80" y2="97.60" stroke="#000" stroke-width="2" shape-rendering="crispEdges"/>
<line x1="545.80" y1="80.70" x2="545.80" y2="91.20" stroke="#000" stroke-width="3.6" shape-rendering="crispEdges"/>
<rect x="552.60" y="74.30" width="2.00" height="23.30" fill="#fff" stroke="#000" stroke-width="1" shape-rendering="crispEdges"/>
<line x1="561.10" y1="74.30" x2="561.10" y2="97.60" stroke="#000" stroke-width="2" shape-rendering="crispEdges"/>
<line x1="561.10" y1="80.70" x2="561.10" y2="91.20" stroke="#000" stroke-width="3.6" shape-rendering="crispEdges"/>
<rect x="486.35" y="81.90" width="3.20" height="8.30" fill="none" stroke="#000" stroke-width="1" shape-rendering="crispEdges"/>
<rect x="501.55" y="81.90" width="3.20" height="8.30" fill="none" stroke="#000" stroke-width="1" shape-rendering="crispEdges"/>
<rect x="517.20" y="81.90" width="3.20" height="8.30" fill="none" stroke="#000" stroke-width="1" shape-rendering="crispEdges"/>
<rect x="532.30" y="81.90" width="3.20" height="8.30" fill="none" stroke="#000" stroke-width="1" shape-rendering="crispEdges"/>
<rect x="548.10" y="81.90" width="3.20" height="8.30" fill="none" stroke="#000" stroke-width="1" shape-rendering="crispEdges"/>
<line x1="477.50" y1="118.10" x2="566.50" y2="118.10" stroke="#000" stroke-width="1" shape-rendering="crispEdges"/>
<line x1="477.50" y1="122.60" x2="566.50" y2="122.60" stroke="#000" stroke-width="1" shape-rendering="crispEdges"/>
<line x1="477.50" y1="126.40" x2="566.50" y2="126.40" stroke="#000" stroke-width="1" shape-rendering="crispEdges"/>
<rect x="481.20" y="110.50" width="2.00" height="23.80" fill="#fff" stroke="#000" stroke-width="1" shape-rendering="crispEdges"/>
<line x1="490.00" y1="110.50" x2="490.00" y2="134.30" stroke="#000" stroke-width="2" shape-rendering="crispEdges"/>
<line x1="490.00" y1="116.90" x2="490.00" y2="127.40" stroke="#000" stroke-width="3.6" shape-rendering="crispEdges"/>
<line x1="497.90" y1="110.50" x2="497.90" y2="134.30" stroke="#000" stroke-width="2" shape-rendering="crispEdges"/>
<line x1="497.90" y1="116.90" x2="497.90" y2="127.40" stroke="#000" stroke-width="3.6" shape-rendering="crispEdges"/>
<rect x="504.40" y="110.50" width="2.00" height="23.80" fill="#fff" stroke="#000" stroke-width="1" shape-rendering="crispEdges"/>
<line x1="513.20" y1="110.50" x2="513.20" y2="134.30" stroke="#000" stroke-width="2" shape-rendering="crispEdges"/>
<line x1="513.20" y1="116.90" x2="513.20" y2="127.40" stroke="#000" stroke-width="3.6" shape-rendering="crispEdges"/>
<line x1="521.00" y1="110.50" x2="521.00" y2="134.30" stroke="#000" stroke-width="2" shape-rendering="crispEdges"/>
<line x1="521.00" y1="116.90" x2="521.00" y2="127.40" stroke="#000" stroke-width="3.6" shape-rendering="crispEdges"/>
<line x1="528.60" y1="110.50" x2="528.60" y2="134.30" stroke="#000" stroke-width="2" shape-rendering="crispEdges"/>
<line x1="528.60" y1="116.90" x2="528.60" y2="127.40" stroke="#000" stroke-width="3.6" shape-rendering="crispEdges"/>
<rect x="535.40" y="110.50" width="2.00" height="23.80" fill="#fff" stroke="#000" stroke-width="1" shape-rendering="crispEdges"/>
<line x1="543.90" y1="110.50" x2="543.90" y2="134.30" stroke="#000" stroke-width="2" shape-rendering="crispEdges"/>
<line x1="543.90" y1="116.90" x2="543.90" y2="127.40" stroke="#000" stroke-width="3.6" shape-rendering="crispEdges"/>
<line x1="551.80" y1="110.50" x2="551.80" y2="134.30" stroke="#000" stroke-width="2" shape-rendering="crispEdges"/>
<line x1="551.80" y1="116.90" x2="551.80" y2="127.40" stroke="#000" stroke-width="3.6" shape-rendering="crispEdges"/>
<rect x="558.60" y="110.50" width="2.00" height="23.80" fill="#fff" stroke="#000" stroke-width="1" shape-rendering="crispEdges"/>
<rect x="484.50" y="118.10" width="3.20" height="8.30" fill="none" stroke="#000" stroke-width="1" shape-rendering="crispEdges"/>
<rect x="500.05" y="118.10" width="3.20" height="8.30" fill="none" stroke="#000" stroke-width="1" shape-rendering="crispEdges"/>
<rect x="515.50" y="118.10" width="3.20" height="8.30" fill="none" stroke="#000" stroke-width="1" shape-rendering="crispEdges"/>
<rect x="530.90" y="118.10" width="3.20" height="8.30" fill="none" stroke="#000" stroke-width="1" shape-rendering="crispEdges"/>
<rect x="546.25" y="118.10" width="3.20" height="8.30" fill="none" stroke="#000" stroke-width="1" shape-rendering="crispEdges"/>
<rect x="524.40" y="91.00" width="3.00" height="6.20" fill="#fff" stroke="#000" stroke-width="1" shape-rendering="crispEdges"/>
<path d="M521,74.5 L523.5,74.5 L523.5,78" fill="none" stroke="#000" stroke-width="1" />
<rect x="460.3" y="79.10" width="8.4" height="13.6" rx="3" fill="none" stroke="#000" stroke-width="1.3"/>
<line x1="458.00" y1="86.40" x2="471.50" y2="86.40" stroke="#000" stroke-width="1" shape-rendering="crispEdges"/>
<line x1="464.50" y1="77.90" x2="464.50" y2="79.40" stroke="#000" stroke-width="1" shape-rendering="crispEdges"/>
<line x1="462.00" y1="92.70" x2="462.00" y2="98.80" stroke="#000" stroke-width="1" shape-rendering="crispEdges"/>
<line x1="467.00" y1="92.70" x2="467.00" y2="98.80" stroke="#000" stroke-width="1" shape-rendering="crispEdges"/>
<line x1="464.50" y1="93.90" x2="464.50" y2="98.80" stroke="#000" stroke-width="1" shape-rendering="crispEdges"/>
<line x1="461.00" y1="97.40" x2="468.00" y2="97.40" stroke="#000" stroke-width="1.5" shape-rendering="crispEdges"/>
<rect x="460.3" y="115.30" width="8.4" height="13.6" rx="3" fill="none" stroke="#000" stroke-width="1.3"/>
<line x1="458.00" y1="122.60" x2="471.50" y2="122.60" stroke="#000" stroke-width="1" shape-rendering="crispEdges"/>
<line x1="464.50" y1="114.10" x2="464.50" y2="115.60" stroke="#000" stroke-width="1" shape-rendering="crispEdges"/>
<line x1="462.00" y1="128.90" x2="462.00" y2="135.00" stroke="#000" stroke-width="1" shape-rendering="crispEdges"/>
<line x1="467.00" y1="128.90" x2="467.00" y2="135.00" stroke="#000" stroke-width="1" shape-rendering="crispEdges"/>
<line x1="464.50" y1="130.10" x2="464.50" y2="135.00" stroke="#000" stroke-width="1" shape-rendering="crispEdges"/>
<line x1="461.00" y1="133.60" x2="468.00" y2="133.60" stroke="#000" stroke-width="1.5" shape-rendering="crispEdges"/>
<path d="M458.2,100.3 L470.8,100.3 L470.8,108.7 L466,108.7 L464.8,106.5 L463.5,108.7 L458.2,108.7 Z" fill="none" stroke="#000" stroke-width="1.2" />
<line x1="458.00" y1="137.00" x2="477.50" y2="137.00" stroke="#000" stroke-width="1" shape-rendering="crispEdges"/>
<rect x="458.20" y="136.20" width="20.30" height="25.20" fill="none" stroke="#000" stroke-width="1" shape-rendering="crispEdges"/>
<line x1="470.70" y1="136.20" x2="470.70" y2="161.40" stroke="#000" stroke-width="1" shape-rendering="crispEdges"/>
<rect x="459.7" y="145.4" width="6.4" height="2.4" rx="1.2" fill="none" stroke="#000" stroke-width="1" transform="rotate(-60 462.9 146.6)"/>
<line x1="478.50" y1="141.20" x2="566.40" y2="141.20" stroke="#000" stroke-width="1.2" shape-rendering="crispEdges"/>
<line x1="478.50" y1="137.00" x2="478.50" y2="161.40" stroke="#000" stroke-width="1" shape-rendering="crispEdges"/>
<line x1="566.40" y1="137.00" x2="566.40" y2="161.40" stroke="#000" stroke-width="1" shape-rendering="crispEdges"/>
<line x1="478.50" y1="137.00" x2="566.40" y2="137.00" stroke="#000" stroke-width="1" shape-rendering="crispEdges"/>
<line x1="500.00" y1="141.20" x2="500.00" y2="161.40" stroke="#000" stroke-width="2" shape-rendering="crispEdges"/>
<line x1="543.60" y1="141.20" x2="543.60" y2="161.40" stroke="#000" stroke-width="2" shape-rendering="crispEdges"/>
<line x1="482.20" y1="134.00" x2="482.20" y2="137.00" stroke="#000" stroke-width="1.5" shape-rendering="crispEdges"/>
<rect x="489.00" y="134.00" width="2.00" height="7.00" fill="#fff" stroke="#000" stroke-width="1" shape-rendering="crispEdges"/>
<line x1="497.90" y1="134.00" x2="497.90" y2="137.00" stroke="#000" stroke-width="1.5" shape-rendering="crispEdges"/>
<line x1="505.40" y1="134.00" x2="505.40" y2="137.00" stroke="#000" stroke-width="1.5" shape-rendering="crispEdges"/>
<rect x="512.20" y="134.00" width="2.00" height="7.00" fill="#fff" stroke="#000" stroke-width="1" shape-rendering="crispEdges"/>
<line x1="521.00" y1="134.00" x2="521.00" y2="137.00" stroke="#000" stroke-width="1.5" shape-rendering="crispEdges"/>
<line x1="528.60" y1="134.00" x2="528.60" y2="137.00" stroke="#000" stroke-width="1.5" shape-rendering="crispEdges"/>
<rect x="535.40" y="134.00" width="2.00" height="7.00" fill="#fff" stroke="#000" stroke-width="1" shape-rendering="crispEdges"/>
<line x1="543.90" y1="134.00" x2="543.90" y2="137.00" stroke="#000" stroke-width="1.5" shape-rendering="crispEdges"/>
<line x1="551.80" y1="134.00" x2="551.80" y2="137.00" stroke="#000" stroke-width="1.5" shape-rendering="crispEdges"/>
<rect x="558.60" y="134.00" width="2.00" height="7.00" fill="#fff" stroke="#000" stroke-width="1" shape-rendering="crispEdges"/>
<line x1="435.00" y1="161.40" x2="633.70" y2="161.40" stroke="#000" stroke-width="1" shape-rendering="crispEdges"/>
<path d="M434.9,161.4 L478.5,161.4 L478.5,183.3 L484.2,203.9 L477.4,203.9 L477.4,197.3 L458.2,197.3 L458.2,175.2 L437.9,175.2 Z" fill="url(#h3)" stroke="#000" stroke-width="1.2" />
<path d="M566.4,161.4 L633.7,161.4 L630,175.2 L587,175.2 L587,197.3 L568.2,197.3 L568.2,203.9 L560.1,203.9 L566.4,180.6 Z" fill="url(#h2)" stroke="#000" stroke-width="1.2" />
<rect x="448.6" y="168.4" width="1.2" height="1.2" fill="#000"/>
<rect x="453.3" y="169.0" width="1.6" height="1.6" fill="#000"/>
<rect x="462.5" y="163.7" width="2.0" height="2.0" fill="#000"/>
<rect x="440.5" y="171.4" width="1.2" height="1.2" fill="#000"/>
<rect x="449.3" y="165.3" width="1.6" height="1.6" fill="#000"/>
<rect x="475.8" y="167.7" width="2.0" height="2.0" fill="#000"/>
<rect x="470.1" y="167.8" width="1.2" height="1.2" fill="#000"/>
<rect x="463.0" y="164.5" width="1.6" height="1.6" fill="#000"/>
<rect x="462.9" y="171.7" width="2.0" height="2.0" fill="#000"/>
<rect x="458.8" y="170.4" width="1.2" height="1.2" fill="#000"/>
<rect x="464.2" y="163.6" width="1.6" height="1.6" fill="#000"/>
<rect x="467.3" y="168.9" width="2.0" height="2.0" fill="#000"/>
<rect x="465.1" y="176.6" width="1.2" height="1.2" fill="#000"/>
<rect x="474.7" y="185.0" width="1.6" height="1.6" fill="#000"/>
<rect x="472.2" y="192.7" width="2.0" height="2.0" fill="#000"/>
<rect x="472.1" y="193.5" width="1.2" height="1.2" fill="#000"/>
<rect x="466.7" y="191.2" width="1.6" height="1.6" fill="#000"/>
<rect x="467.6" y="193.8" width="2.0" height="2.0" fill="#000"/>
<rect x="474.9" y="177.9" width="1.2" height="1.2" fill="#000"/>
<rect x="462.3" y="180.1" width="1.6" height="1.6" fill="#000"/>
<rect x="476.4" y="184.3" width="2.0" height="2.0" fill="#000"/>
<rect x="470.7" y="181.7" width="1.2" height="1.2" fill="#000"/>
<rect x="468.6" y="183.3" width="1.6" height="1.6" fill="#000"/>
<rect x="466.0" y="187.1" width="2.0" height="2.0" fill="#000"/>
<rect x="469.9" y="193.2" width="1.2" height="1.2" fill="#000"/>
<rect x="471.6" y="193.6" width="1.6" height="1.6" fill="#000"/>
<rect x="619.4" y="172.9" width="1.2" height="1.2" fill="#000"/>
<rect x="608.3" y="164.6" width="1.6" height="1.6" fill="#000"/>
<rect x="619.6" y="172.6" width="2.0" height="2.0" fill="#000"/>
<rect x="622.3" y="168.7" width="1.2" height="1.2" fill="#000"/>
<rect x="610.8" y="165.1" width="1.6" height="1.6" fill="#000"/>
<rect x="617.9" y="168.7" width="2.0" height="2.0" fill="#000"/>
<rect x="585.1" y="163.6" width="1.2" height="1.2" fill="#000"/>
<rect x="619.2" y="172.9" width="1.6" height="1.6" fill="#000"/>
<rect x="573.3" y="171.0" width="2.0" height="2.0" fill="#000"/>
<rect x="592.6" y="164.5" width="1.2" height="1.2" fill="#000"/>
<rect x="585.6" y="170.7" width="1.6" height="1.6" fill="#000"/>
<rect x="620.4" y="163.4" width="2.0" height="2.0" fill="#000"/>
<rect x="604.9" y="163.4" width="1.2" height="1.2" fill="#000"/>
<rect x="611.1" y="166.3" width="1.6" height="1.6" fill="#000"/>
<rect x="620.9" y="172.8" width="2.0" height="2.0" fill="#000"/>
<rect x="598.3" y="173.0" width="1.2" height="1.2" fill="#000"/>
<rect x="573.3" y="177.5" width="1.2" height="1.2" fill="#000"/>
<rect x="578.2" y="176.6" width="1.6" height="1.6" fill="#000"/>
<rect x="571.4" y="183.8" width="2.0" height="2.0" fill="#000"/>
<rect x="578.4" y="179.0" width="1.2" height="1.2" fill="#000"/>
<rect x="568.7" y="192.5" width="1.6" height="1.6" fill="#000"/>
<rect x="573.3" y="194.2" width="2.0" height="2.0" fill="#000"/>
<rect x="583.2" y="183.2" width="1.2" height="1.2" fill="#000"/>
<rect x="575.8" y="185.9" width="1.6" height="1.6" fill="#000"/>
<rect x="578.9" y="187.3" width="2.0" height="2.0" fill="#000"/>
<rect x="577.5" y="187.8" width="1.2" height="1.2" fill="#000"/>
<rect x="584.0" y="185.6" width="1.6" height="1.6" fill="#000"/>
<rect x="575.3" y="189.7" width="2.0" height="2.0" fill="#000"/>
<path d="M484.2,203.9 Q522,208.5 560.1,203.9" fill="none" stroke="#000" stroke-width="1.2" />
<line x1="572.80" y1="136.00" x2="620.70" y2="136.00" stroke="#000" stroke-width="1" shape-rendering="crispEdges"/>
<line x1="620.70" y1="133.00" x2="620.70" y2="161.40" stroke="#000" stroke-width="1" shape-rendering="crispEdges"/>
<line x1="573.00" y1="136.00" x2="573.00" y2="161.40" stroke="#000" stroke-width="2" shape-rendering="crispEdges"/>
<line x1="575.00" y1="136.00" x2="575.00" y2="161.40" stroke="#000" stroke-width="1" shape-rendering="crispEdges"/>
<line x1="585.60" y1="136.00" x2="585.60" y2="161.40" stroke="#000" stroke-width="1" shape-rendering="crispEdges"/>
<line x1="588.80" y1="136.00" x2="588.80" y2="161.40" stroke="#000" stroke-width="1" shape-rendering="crispEdges"/>
<line x1="591.50" y1="136.00" x2="591.50" y2="161.40" stroke="#000" stroke-width="2" shape-rendering="crispEdges"/>
<line x1="593.00" y1="136.00" x2="593.00" y2="161.40" stroke="#000" stroke-width="1" shape-rendering="crispEdges"/>
<line x1="603.20" y1="136.00" x2="603.20" y2="161.40" stroke="#000" stroke-width="1.6" shape-rendering="crispEdges"/>
<line x1="612.50" y1="136.00" x2="612.50" y2="161.40" stroke="#000" stroke-width="1.6" shape-rendering="crispEdges"/>
<rect x="613.6" y="144.2" width="6.4" height="2.4" rx="1.2" fill="none" stroke="#000" stroke-width="1" transform="rotate(55 616.8 145.4)"/>
<rect x="575.6" y="78.40" width="6.6" height="15" rx="2" fill="none" stroke="#000" stroke-width="1.3"/>
<line x1="578.90" y1="77.10" x2="578.90" y2="78.40" stroke="#000" stroke-width="1" shape-rendering="crispEdges"/>
<line x1="572.80" y1="86.40" x2="597.00" y2="86.40" stroke="#000" stroke-width="1" shape-rendering="crispEdges"/>
<rect x="584.00" y="78.90" width="4.50" height="14.50" fill="none" stroke="#000" stroke-width="1" shape-rendering="crispEdges"/>
<rect x="590.50" y="78.90" width="5.00" height="14.50" fill="none" stroke="#000" stroke-width="1" shape-rendering="crispEdges"/>
<line x1="584.00" y1="82.90" x2="595.50" y2="82.90" stroke="#000" stroke-width="1" shape-rendering="crispEdges"/>
<line x1="584.00" y1="89.90" x2="595.50" y2="89.90" stroke="#000" stroke-width="1" shape-rendering="crispEdges"/>
<line x1="584.50" y1="78.20" x2="588.00" y2="78.20" stroke="#000" stroke-width="1.5" shape-rendering="crispEdges"/>
<line x1="591.00" y1="78.20" x2="595.00" y2="78.20" stroke="#000" stroke-width="1.5" shape-rendering="crispEdges"/>
<line x1="589.50" y1="81.40" x2="589.50" y2="91.40" stroke="#000" stroke-width="1" shape-rendering="crispEdges"/>
<line x1="577.00" y1="93.40" x2="577.00" y2="99.00" stroke="#000" stroke-width="1" shape-rendering="crispEdges"/>
<line x1="581.00" y1="93.40" x2="581.00" y2="99.00" stroke="#000" stroke-width="1" shape-rendering="crispEdges"/>
<rect x="584.50" y="93.40" width="3.50" height="5.60" fill="none" stroke="#000" stroke-width="1" shape-rendering="crispEdges"/>
<rect x="591.00" y="93.40" width="4.00" height="5.60" fill="none" stroke="#000" stroke-width="1" shape-rendering="crispEdges"/>
<rect x="597.20" y="66.00" width="16.10" height="31.40" fill="none" stroke="#000" stroke-width="1.3" shape-rendering="crispEdges"/>
<line x1="597.20" y1="75.50" x2="613.30" y2="75.50" stroke="#000" stroke-width="2" shape-rendering="crispEdges"/>
<line x1="611.50" y1="75.50" x2="611.50" y2="97.40" stroke="#000" stroke-width="1" shape-rendering="crispEdges"/>
<line x1="617.00" y1="74.90" x2="617.00" y2="95.40" stroke="#000" stroke-width="2" shape-rendering="crispEdges"/>
<line x1="614.60" y1="80.40" x2="614.60" y2="95.40" stroke="#000" stroke-width="1" shape-rendering="crispEdges"/>
<rect x="619.6" y="75.10" width="29" height="21.6" rx="2.2" fill="none" stroke="#000" stroke-width="1.3"/>
<line x1="646.50" y1="75.90" x2="646.50" y2="95.90" stroke="#000" stroke-width="1" shape-rendering="crispEdges"/>
<line x1="605.50" y1="65.00" x2="605.50" y2="66.00" stroke="#000" stroke-width="1" shape-rendering="crispEdges"/>
<line x1="604.50" y1="65.30" x2="606.50" y2="65.30" stroke="#000" stroke-width="1" shape-rendering="crispEdges"/>
<line x1="603.80" y1="86.40" x2="609.80" y2="86.40" stroke="#000" stroke-width="1.3" shape-rendering="crispEdges"/>
<line x1="619.60" y1="86.40" x2="650.50" y2="86.40" stroke="#000" stroke-width="1" shape-rendering="crispEdges"/>
<line x1="596.60" y1="100.50" x2="620.50" y2="100.50" stroke="#000" stroke-width="3" shape-rendering="crispEdges"/>
<rect x="575.6" y="114.60" width="6.6" height="15" rx="2" fill="none" stroke="#000" stroke-width="1.3"/>
<line x1="578.90" y1="113.30" x2="578.90" y2="114.60" stroke="#000" stroke-width="1" shape-rendering="crispEdges"/>
<line x1="572.80" y1="122.60" x2="597.00" y2="122.60" stroke="#000" stroke-width="1" shape-rendering="crispEdges"/>
<rect x="584.00" y="115.10" width="4.50" height="14.50" fill="none" stroke="#000" stroke-width="1" shape-rendering="crispEdges"/>
<rect x="590.50" y="115.10" width="5.00" height="14.50" fill="none" stroke="#000" stroke-width="1" shape-rendering="crispEdges"/>
<line x1="584.00" y1="119.10" x2="595.50" y2="119.10" stroke="#000" stroke-width="1" shape-rendering="crispEdges"/>
<line x1="584.00" y1="126.10" x2="595.50" y2="126.10" stroke="#000" stroke-width="1" shape-rendering="crispEdges"/>
<line x1="584.50" y1="114.40" x2="588.00" y2="114.40" stroke="#000" stroke-width="1.5" shape-rendering="crispEdges"/>
<line x1="591.00" y1="114.40" x2="595.00" y2="114.40" stroke="#000" stroke-width="1.5" shape-rendering="crispEdges"/>
<line x1="589.50" y1="117.60" x2="589.50" y2="127.60" stroke="#000" stroke-width="1" shape-rendering="crispEdges"/>
<line x1="577.00" y1="129.60" x2="577.00" y2="135.20" stroke="#000" stroke-width="1" shape-rendering="crispEdges"/>
<line x1="581.00" y1="129.60" x2="581.00" y2="135.20" stroke="#000" stroke-width="1" shape-rendering="crispEdges"/>
<rect x="584.50" y="129.60" width="3.50" height="5.60" fill="none" stroke="#000" stroke-width="1" shape-rendering="crispEdges"/>
<rect x="591.00" y="129.60" width="4.00" height="5.60" fill="none" stroke="#000" stroke-width="1" shape-rendering="crispEdges"/>
<rect x="597.20" y="102.50" width="16.10" height="31.10" fill="none" stroke="#000" stroke-width="1.3" shape-rendering="crispEdges"/>
<line x1="597.20" y1="112.00" x2="613.30" y2="112.00" stroke="#000" stroke-width="2" shape-rendering="crispEdges"/>
<line x1="611.50" y1="112.00" x2="611.50" y2="133.60" stroke="#000" stroke-width="1" shape-rendering="crispEdges"/>
<line x1="617.00" y1="111.10" x2="617.00" y2="131.60" stroke="#000" stroke-width="2" shape-rendering="crispEdges"/>
<line x1="614.60" y1="116.60" x2="614.60" y2="131.60" stroke="#000" stroke-width="1" shape-rendering="crispEdges"/>
<rect x="619.6" y="111.30" width="29" height="21.6" rx="2.2" fill="none" stroke="#000" stroke-width="1.3"/>
<line x1="646.50" y1="112.10" x2="646.50" y2="132.10" stroke="#000" stroke-width="1" shape-rendering="crispEdges"/>
<line x1="606.00" y1="122.60" x2="652.00" y2="122.60" stroke="#000" stroke-width="1" shape-rendering="crispEdges"/>
<line x1="606.00" y1="111.50" x2="606.00" y2="133.50" stroke="#000" stroke-width="1" shape-rendering="crispEdges"/>
<rect x="573.00" y="101.30" width="12.50" height="5.40" fill="none" stroke="#000" stroke-width="1.2" shape-rendering="crispEdges"/>
<line x1="596.60" y1="134.50" x2="620.50" y2="134.50" stroke="#000" stroke-width="2.5" shape-rendering="crispEdges"/>
<rect x="569.00" y="97.00" width="3.80" height="8.00" fill="none" stroke="#000" stroke-width="1" shape-rendering="crispEdges"/>
<rect x="569.00" y="129.00" width="3.80" height="8.00" fill="none" stroke="#000" stroke-width="1" shape-rendering="crispEdges"/>
<line x1="78.20" y1="229.50" x2="389.70" y2="229.50" stroke="#000" stroke-width="1" shape-rendering="crispEdges"/>
<line x1="78.20" y1="364.20" x2="389.70" y2="364.20" stroke="#000" stroke-width="1" shape-rendering="crispEdges"/>
<line x1="78.20" y1="229.50" x2="78.20" y2="364.20" stroke="#000" stroke-width="1" shape-rendering="crispEdges"/>
<line x1="389.70" y1="229.50" x2="389.70" y2="364.20" stroke="#000" stroke-width="1" shape-rendering="crispEdges"/>
<line x1="63.50" y1="247.30" x2="78.00" y2="247.30" stroke="#000" stroke-width="1" shape-rendering="crispEdges"/>
<line x1="63.50" y1="346.30" x2="78.00" y2="346.30" stroke="#000" stroke-width="1" shape-rendering="crispEdges"/>
<line x1="63.50" y1="247.30" x2="63.50" y2="346.30" stroke="#000" stroke-width="1" shape-rendering="crispEdges"/>
<line x1="77.00" y1="247.80" x2="334.00" y2="247.80" stroke="#000" stroke-width="3.2" shape-rendering="crispEdges"/>
<line x1="77.00" y1="345.80" x2="334.00" y2="345.80" stroke="#000" stroke-width="3.2" shape-rendering="crispEdges"/>
<line x1="334.00" y1="248.50" x2="384.00" y2="248.50" stroke="#000" stroke-width="2.6" shape-rendering="crispEdges"/>
<line x1="334.00" y1="345.80" x2="384.00" y2="345.80" stroke="#000" stroke-width="3.4" shape-rendering="crispEdges"/>
<line x1="78.30" y1="243.00" x2="78.30" y2="351.00" stroke="#000" stroke-width="2" shape-rendering="crispEdges"/>
<line x1="81.80" y1="249.00" x2="81.80" y2="345.00" stroke="#000" stroke-width="1" shape-rendering="crispEdges"/>
<line x1="83.80" y1="256.00" x2="83.80" y2="337.00" stroke="#000" stroke-width="1.8" shape-rendering="crispEdges"/>
<line x1="81.80" y1="255.00" x2="304.50" y2="255.00" stroke="#000" stroke-width="1" shape-rendering="crispEdges"/>
<line x1="83.80" y1="336.30" x2="304.50" y2="336.30" stroke="#000" stroke-width="1" shape-rendering="crispEdges"/>
<line x1="81.80" y1="338.00" x2="304.50" y2="338.00" stroke="#000" stroke-width="1" shape-rendering="crispEdges"/>
<line x1="141.00" y1="255.00" x2="141.00" y2="337.00" stroke="#000" stroke-width="2" shape-rendering="crispEdges"/>
<line x1="198.50" y1="249.00" x2="198.50" y2="346.00" stroke="#000" stroke-width="1" shape-rendering="crispEdges"/>
<line x1="203.40" y1="249.00" x2="203.40" y2="346.00" stroke="#000" stroke-width="1" shape-rendering="crispEdges"/>
<line x1="199.80" y1="258.00" x2="199.80" y2="335.00" stroke="#000" stroke-width="1" shape-rendering="crispEdges"/>
<line x1="201.70" y1="258.00" x2="201.70" y2="335.00" stroke="#000" stroke-width="1" shape-rendering="crispEdges"/>
<line x1="207.20" y1="256.50" x2="207.20" y2="337.00" stroke="#000" stroke-width="1" shape-rendering="crispEdges"/>
<line x1="209.30" y1="256.50" x2="209.30" y2="337.00" stroke="#000" stroke-width="1" shape-rendering="crispEdges"/>
<line x1="264.80" y1="249.00" x2="264.80" y2="346.00" stroke="#000" stroke-width="1" shape-rendering="crispEdges"/>
<line x1="267.30" y1="249.00" x2="267.30" y2="346.00" stroke="#000" stroke-width="1" shape-rendering="crispEdges"/>
<line x1="273.10" y1="255.00" x2="273.10" y2="337.00" stroke="#000" stroke-width="1" shape-rendering="crispEdges"/>
<line x1="304.50" y1="249.00" x2="304.50" y2="345.00" stroke="#000" stroke-width="1.2" shape-rendering="crispEdges"/>
<line x1="55.00" y1="297.50" x2="83.60" y2="297.50" stroke="#000" stroke-width="1" shape-rendering="crispEdges"/>
<line x1="90.80" y1="297.50" x2="97.50" y2="297.50" stroke="#000" stroke-width="1" shape-rendering="crispEdges"/>
<line x1="103.70" y1="297.50" x2="137.30" y2="297.50" stroke="#000" stroke-width="1" shape-rendering="crispEdges"/>
<line x1="144.40" y1="297.50" x2="150.00" y2="297.50" stroke="#000" stroke-width="1" shape-rendering="crispEdges"/>
<line x1="156.70" y1="297.50" x2="190.30" y2="297.50" stroke="#000" stroke-width="1" shape-rendering="crispEdges"/>
<line x1="197.00" y1="297.50" x2="203.60" y2="297.50" stroke="#000" stroke-width="1" shape-rendering="crispEdges"/>
<line x1="209.60" y1="297.50" x2="242.70" y2="297.50" stroke="#000" stroke-width="1" shape-rendering="crispEdges"/>
<line x1="250.00" y1="297.50" x2="256.00" y2="297.50" stroke="#000" stroke-width="1" shape-rendering="crispEdges"/>
<line x1="262.80" y1="297.50" x2="300.00" y2="297.50" stroke="#000" stroke-width="1" shape-rendering="crispEdges"/>
<line x1="303.40" y1="297.50" x2="309.20" y2="297.50" stroke="#000" stroke-width="1" shape-rendering="crispEdges"/>
<line x1="316.00" y1="297.50" x2="348.30" y2="297.50" stroke="#000" stroke-width="1" shape-rendering="crispEdges"/>
<line x1="355.70" y1="297.50" x2="364.00" y2="297.50" stroke="#000" stroke-width="1" shape-rendering="crispEdges"/>
<line x1="369.80" y1="297.50" x2="398.00" y2="297.50" stroke="#000" stroke-width="1" shape-rendering="crispEdges"/>
<line x1="94.70" y1="221.30" x2="94.70" y2="264.00" stroke="#000" stroke-width="1" shape-rendering="crispEdges"/>
<line x1="94.70" y1="329.00" x2="94.70" y2="442.00" stroke="#000" stroke-width="1" shape-rendering="crispEdges"/>
<line x1="94.70" y1="272.00" x2="94.70" y2="278.00" stroke="#000" stroke-width="1" shape-rendering="crispEdges"/>
<line x1="94.70" y1="282.00" x2="94.70" y2="312.00" stroke="#000" stroke-width="1" shape-rendering="crispEdges"/>
<line x1="94.70" y1="315.00" x2="94.70" y2="321.00" stroke="#000" stroke-width="1" shape-rendering="crispEdges"/>
<line x1="119.50" y1="221.30" x2="119.50" y2="264.00" stroke="#000" stroke-width="1" shape-rendering="crispEdges"/>
<line x1="119.50" y1="329.00" x2="119.50" y2="442.00" stroke="#000" stroke-width="1" shape-rendering="crispEdges"/>
<line x1="119.50" y1="272.00" x2="119.50" y2="278.00" stroke="#000" stroke-width="1" shape-rendering="crispEdges"/>
<line x1="119.50" y1="282.00" x2="119.50" y2="312.00" stroke="#000" stroke-width="1" shape-rendering="crispEdges"/>
<line x1="119.50" y1="315.00" x2="119.50" y2="321.00" stroke="#000" stroke-width="1" shape-rendering="crispEdges"/>
<line x1="144.30" y1="221.30" x2="144.30" y2="264.00" stroke="#000" stroke-width="1" shape-rendering="crispEdges"/>
<line x1="144.30" y1="329.00" x2="144.30" y2="442.00" stroke="#000" stroke-width="1" shape-rendering="crispEdges"/>
<line x1="144.30" y1="272.00" x2="144.30" y2="278.00" stroke="#000" stroke-width="1" shape-rendering="crispEdges"/>
<line x1="144.30" y1="282.00" x2="144.30" y2="312.00" stroke="#000" stroke-width="1" shape-rendering="crispEdges"/>
<line x1="144.30" y1="315.00" x2="144.30" y2="321.00" stroke="#000" stroke-width="1" shape-rendering="crispEdges"/>
<line x1="169.40" y1="221.30" x2="169.40" y2="264.00" stroke="#000" stroke-width="1" shape-rendering="crispEdges"/>
<line x1="169.40" y1="329.00" x2="169.40" y2="442.00" stroke="#000" stroke-width="1" shape-rendering="crispEdges"/>
<line x1="169.40" y1="272.00" x2="169.40" y2="278.00" stroke="#000" stroke-width="1" shape-rendering="crispEdges"/>
<line x1="169.40" y1="282.00" x2="169.40" y2="312.00" stroke="#000" stroke-width="1" shape-rendering="crispEdges"/>
<line x1="169.40" y1="315.00" x2="169.40" y2="321.00" stroke="#000" stroke-width="1" shape-rendering="crispEdges"/>
<line x1="194.50" y1="221.30" x2="194.50" y2="264.00" stroke="#000" stroke-width="1" shape-rendering="crispEdges"/>
<line x1="194.50" y1="329.00" x2="194.50" y2="442.00" stroke="#000" stroke-width="1" shape-rendering="crispEdges"/>
<line x1="194.50" y1="272.00" x2="194.50" y2="278.00" stroke="#000" stroke-width="1" shape-rendering="crispEdges"/>
<line x1="194.50" y1="282.00" x2="194.50" y2="312.00" stroke="#000" stroke-width="1" shape-rendering="crispEdges"/>
<line x1="194.50" y1="315.00" x2="194.50" y2="321.00" stroke="#000" stroke-width="1" shape-rendering="crispEdges"/>
<line x1="219.60" y1="221.30" x2="219.60" y2="264.00" stroke="#000" stroke-width="1" shape-rendering="crispEdges"/>
<line x1="219.60" y1="329.00" x2="219.60" y2="442.00" stroke="#000" stroke-width="1" shape-rendering="crispEdges"/>
<line x1="219.60" y1="272.00" x2="219.60" y2="278.00" stroke="#000" stroke-width="1" shape-rendering="crispEdges"/>
<line x1="219.60" y1="282.00" x2="219.60" y2="312.00" stroke="#000" stroke-width="1" shape-rendering="crispEdges"/>
<line x1="219.60" y1="315.00" x2="219.60" y2="321.00" stroke="#000" stroke-width="1" shape-rendering="crispEdges"/>
<line x1="245.30" y1="221.30" x2="245.30" y2="264.00" stroke="#000" stroke-width="1" shape-rendering="crispEdges"/>
<line x1="245.30" y1="329.00" x2="245.30" y2="442.00" stroke="#000" stroke-width="1" shape-rendering="crispEdges"/>
<line x1="245.30" y1="272.00" x2="245.30" y2="278.00" stroke="#000" stroke-width="1" shape-rendering="crispEdges"/>
<line x1="245.30" y1="282.00" x2="245.30" y2="312.00" stroke="#000" stroke-width="1" shape-rendering="crispEdges"/>
<line x1="245.30" y1="315.00" x2="245.30" y2="321.00" stroke="#000" stroke-width="1" shape-rendering="crispEdges"/>
<line x1="270.40" y1="221.30" x2="270.40" y2="264.00" stroke="#000" stroke-width="1" shape-rendering="crispEdges"/>
<line x1="270.40" y1="329.00" x2="270.40" y2="442.00" stroke="#000" stroke-width="1" shape-rendering="crispEdges"/>
<line x1="270.40" y1="272.00" x2="270.40" y2="278.00" stroke="#000" stroke-width="1" shape-rendering="crispEdges"/>
<line x1="270.40" y1="282.00" x2="270.40" y2="312.00" stroke="#000" stroke-width="1" shape-rendering="crispEdges"/>
<line x1="270.40" y1="315.00" x2="270.40" y2="321.00" stroke="#000" stroke-width="1" shape-rendering="crispEdges"/>
<line x1="295.50" y1="221.30" x2="295.50" y2="264.00" stroke="#000" stroke-width="1" shape-rendering="crispEdges"/>
<line x1="295.50" y1="329.00" x2="295.50" y2="442.00" stroke="#000" stroke-width="1" shape-rendering="crispEdges"/>
<line x1="295.50" y1="272.00" x2="295.50" y2="278.00" stroke="#000" stroke-width="1" shape-rendering="crispEdges"/>
<line x1="295.50" y1="282.00" x2="295.50" y2="312.00" stroke="#000" stroke-width="1" shape-rendering="crispEdges"/>
<line x1="295.50" y1="315.00" x2="295.50" y2="321.00" stroke="#000" stroke-width="1" shape-rendering="crispEdges"/>
<line x1="320.50" y1="221.30" x2="320.50" y2="264.00" stroke="#000" stroke-width="1" shape-rendering="crispEdges"/>
<line x1="320.50" y1="329.00" x2="320.50" y2="442.00" stroke="#000" stroke-width="1" shape-rendering="crispEdges"/>
<line x1="320.50" y1="272.00" x2="320.50" y2="278.00" stroke="#000" stroke-width="1" shape-rendering="crispEdges"/>
<line x1="320.50" y1="282.00" x2="320.50" y2="312.00" stroke="#000" stroke-width="1" shape-rendering="crispEdges"/>
<line x1="320.50" y1="315.00" x2="320.50" y2="321.00" stroke="#000" stroke-width="1" shape-rendering="crispEdges"/>
<line x1="106.90" y1="270.00" x2="115.90" y2="270.00" stroke="#000" stroke-width="2" shape-rendering="crispEdges"/>
<line x1="106.90" y1="324.00" x2="115.90" y2="324.00" stroke="#000" stroke-width="2" shape-rendering="crispEdges"/>
<line x1="166.50" y1="270.00" x2="175.50" y2="270.00" stroke="#000" stroke-width="2" shape-rendering="crispEdges"/>
<line x1="166.50" y1="324.00" x2="175.50" y2="324.00" stroke="#000" stroke-width="2" shape-rendering="crispEdges"/>
<line x1="232.00" y1="270.00" x2="241.00" y2="270.00" stroke="#000" stroke-width="2" shape-rendering="crispEdges"/>
<line x1="232.00" y1="324.00" x2="241.00" y2="324.00" stroke="#000" stroke-width="2" shape-rendering="crispEdges"/>
<line x1="283.00" y1="270.00" x2="292.00" y2="270.00" stroke="#000" stroke-width="2" shape-rendering="crispEdges"/>
<line x1="283.00" y1="324.00" x2="292.00" y2="324.00" stroke="#000" stroke-width="2" shape-rendering="crispEdges"/>
<line x1="261.00" y1="268.20" x2="278.00" y2="268.20" stroke="#000" stroke-width="1" shape-rendering="crispEdges"/>
<rect x="94.30" y="254.50" width="2.00" height="7.00" fill="#fff" stroke="#000" stroke-width="1" shape-rendering="crispEdges"/>
<line x1="92.70" y1="253.00" x2="97.90" y2="253.00" stroke="#000" stroke-width="2.4" shape-rendering="crispEdges"/>
<line x1="95.30" y1="250.50" x2="95.30" y2="253.00" stroke="#000" stroke-width="1" shape-rendering="crispEdges"/>
<line x1="95.30" y1="329.00" x2="95.30" y2="343.50" stroke="#000" stroke-width="1.8" shape-rendering="crispEdges"/>
<line x1="93.30" y1="333.50" x2="97.30" y2="333.50" stroke="#000" stroke-width="1.5" shape-rendering="crispEdges"/>
<line x1="92.50" y1="336.50" x2="98.10" y2="336.50" stroke="#000" stroke-width="1.8" shape-rendering="crispEdges"/>
<line x1="93.10" y1="340.00" x2="97.50" y2="340.00" stroke="#000" stroke-width="1.6" shape-rendering="crispEdges"/>
<rect x="126.30" y="254.50" width="2.00" height="7.00" fill="#fff" stroke="#000" stroke-width="1" shape-rendering="crispEdges"/>
<line x1="124.70" y1="253.00" x2="129.90" y2="253.00" stroke="#000" stroke-width="2.4" shape-rendering="crispEdges"/>
<line x1="127.30" y1="250.50" x2="127.30" y2="253.00" stroke="#000" stroke-width="1" shape-rendering="crispEdges"/>
<line x1="127.30" y1="329.00" x2="127.30" y2="343.50" stroke="#000" stroke-width="1.8" shape-rendering="crispEdges"/>
<line x1="125.30" y1="333.50" x2="129.30" y2="333.50" stroke="#000" stroke-width="1.5" shape-rendering="crispEdges"/>
<line x1="124.50" y1="336.50" x2="130.10" y2="336.50" stroke="#000" stroke-width="1.8" shape-rendering="crispEdges"/>
<line x1="125.10" y1="340.00" x2="129.50" y2="340.00" stroke="#000" stroke-width="1.6" shape-rendering="crispEdges"/>
<rect x="153.30" y="254.50" width="2.00" height="7.00" fill="#fff" stroke="#000" stroke-width="1" shape-rendering="crispEdges"/>
<line x1="151.70" y1="253.00" x2="156.90" y2="253.00" stroke="#000" stroke-width="2.4" shape-rendering="crispEdges"/>
<line x1="154.30" y1="250.50" x2="154.30" y2="253.00" stroke="#000" stroke-width="1" shape-rendering="crispEdges"/>
<line x1="154.30" y1="329.00" x2="154.30" y2="343.50" stroke="#000" stroke-width="1.8" shape-rendering="crispEdges"/>
<line x1="152.30" y1="333.50" x2="156.30" y2="333.50" stroke="#000" stroke-width="1.5" shape-rendering="crispEdges"/>
<line x1="151.50" y1="336.50" x2="157.10" y2="336.50" stroke="#000" stroke-width="1.8" shape-rendering="crispEdges"/>
<line x1="152.10" y1="340.00" x2="156.50" y2="340.00" stroke="#000" stroke-width="1.6" shape-rendering="crispEdges"/>
<rect x="185.40" y="254.50" width="2.00" height="7.00" fill="#fff" stroke="#000" stroke-width="1" shape-rendering="crispEdges"/>
<line x1="183.80" y1="253.00" x2="189.00" y2="253.00" stroke="#000" stroke-width="2.4" shape-rendering="crispEdges"/>
<line x1="186.40" y1="250.50" x2="186.40" y2="253.00" stroke="#000" stroke-width="1" shape-rendering="crispEdges"/>
<line x1="186.40" y1="329.00" x2="186.40" y2="343.50" stroke="#000" stroke-width="1.8" shape-rendering="crispEdges"/>
<line x1="184.40" y1="333.50" x2="188.40" y2="333.50" stroke="#000" stroke-width="1.5" shape-rendering="crispEdges"/>
<line x1="183.60" y1="336.50" x2="189.20" y2="336.50" stroke="#000" stroke-width="1.8" shape-rendering="crispEdges"/>
<line x1="184.20" y1="340.00" x2="188.60" y2="340.00" stroke="#000" stroke-width="1.6" shape-rendering="crispEdges"/>
<rect x="219.40" y="254.50" width="2.00" height="7.00" fill="#fff" stroke="#000" stroke-width="1" shape-rendering="crispEdges"/>
<line x1="217.80" y1="253.00" x2="223.00" y2="253.00" stroke="#000" stroke-width="2.4" shape-rendering="crispEdges"/>
<line x1="220.40" y1="250.50" x2="220.40" y2="253.00" stroke="#000" stroke-width="1" shape-rendering="crispEdges"/>
<line x1="220.40" y1="329.00" x2="220.40" y2="343.50" stroke="#000" stroke-width="1.8" shape-rendering="crispEdges"/>
<line x1="218.40" y1="333.50" x2="222.40" y2="333.50" stroke="#000" stroke-width="1.5" shape-rendering="crispEdges"/>
<line x1="217.60" y1="336.50" x2="223.20" y2="336.50" stroke="#000" stroke-width="1.8" shape-rendering="crispEdges"/>
<line x1="218.20" y1="340.00" x2="222.60" y2="340.00" stroke="#000" stroke-width="1.6" shape-rendering="crispEdges"/>
<rect x="251.10" y="254.50" width="2.00" height="7.00" fill="#fff" stroke="#000" stroke-width="1" shape-rendering="crispEdges"/>
<line x1="249.50" y1="253.00" x2="254.70" y2="253.00" stroke="#000" stroke-width="2.4" shape-rendering="crispEdges"/>
<line x1="252.10" y1="250.50" x2="252.10" y2="253.00" stroke="#000" stroke-width="1" shape-rendering="crispEdges"/>
<line x1="252.10" y1="329.00" x2="252.10" y2="343.50" stroke="#000" stroke-width="1.8" shape-rendering="crispEdges"/>
<line x1="250.10" y1="333.50" x2="254.10" y2="333.50" stroke="#000" stroke-width="1.5" shape-rendering="crispEdges"/>
<line x1="249.30" y1="336.50" x2="254.90" y2="336.50" stroke="#000" stroke-width="1.8" shape-rendering="crispEdges"/>
<line x1="249.90" y1="340.00" x2="254.30" y2="340.00" stroke="#000" stroke-width="1.6" shape-rendering="crispEdges"/>
<rect x="286.40" y="254.50" width="2.00" height="7.00" fill="#fff" stroke="#000" stroke-width="1" shape-rendering="crispEdges"/>
<line x1="284.80" y1="253.00" x2="290.00" y2="253.00" stroke="#000" stroke-width="2.4" shape-rendering="crispEdges"/>
<line x1="287.40" y1="250.50" x2="287.40" y2="253.00" stroke="#000" stroke-width="1" shape-rendering="crispEdges"/>
<line x1="287.40" y1="329.00" x2="287.40" y2="343.50" stroke="#000" stroke-width="1.8" shape-rendering="crispEdges"/>
<line x1="285.40" y1="333.50" x2="289.40" y2="333.50" stroke="#000" stroke-width="1.5" shape-rendering="crispEdges"/>
<line x1="284.60" y1="336.50" x2="290.20" y2="336.50" stroke="#000" stroke-width="1.8" shape-rendering="crispEdges"/>
<line x1="285.20" y1="340.00" x2="289.60" y2="340.00" stroke="#000" stroke-width="1.6" shape-rendering="crispEdges"/>
<rect x="84.90" y="232.40" width="19.60" height="7.20" fill="none" stroke="#000" stroke-width="1.2" shape-rendering="crispEdges"/>
<rect x="87.90" y="233.30" width="13.60" height="5.40" fill="none" stroke="#000" stroke-width="1" shape-rendering="crispEdges"/>
<path d="M86.90,246.50 L86.90,242.00 L87.70,241.20 L101.70,241.20 L102.50,242.00 L102.50,246.50" fill="none" stroke="#000" stroke-width="1"  shape-rendering="crispEdges"/>
<line x1="89.90" y1="242.90" x2="99.50" y2="242.90" stroke="#000" stroke-width="1" shape-rendering="crispEdges"/>
<line x1="88.70" y1="244.90" x2="100.70" y2="244.90" stroke="#000" stroke-width="1" shape-rendering="crispEdges"/>
<line x1="89.90" y1="242.90" x2="89.90" y2="244.90" stroke="#000" stroke-width="1" shape-rendering="crispEdges"/>
<line x1="99.50" y1="242.90" x2="99.50" y2="244.90" stroke="#000" stroke-width="1" shape-rendering="crispEdges"/>
<line x1="92.70" y1="239.60" x2="92.70" y2="244.90" stroke="#000" stroke-width="1" shape-rendering="crispEdges"/>
<line x1="96.70" y1="239.60" x2="96.70" y2="244.90" stroke="#000" stroke-width="1" shape-rendering="crispEdges"/>
<rect x="84.90" y="354.20" width="19.60" height="7.40" fill="none" stroke="#000" stroke-width="1.2" shape-rendering="crispEdges"/>
<rect x="87.90" y="355.10" width="13.60" height="5.60" fill="none" stroke="#000" stroke-width="1" shape-rendering="crispEdges"/>
<path d="M86.90,347.20 L86.90,351.70 L87.70,352.50 L101.70,352.50 L102.50,351.70 L102.50,347.20" fill="none" stroke="#000" stroke-width="1"  shape-rendering="crispEdges"/>
<line x1="89.90" y1="350.80" x2="99.50" y2="350.80" stroke="#000" stroke-width="1" shape-rendering="crispEdges"/>
<line x1="88.70" y1="348.80" x2="100.70" y2="348.80" stroke="#000" stroke-width="1" shape-rendering="crispEdges"/>
<line x1="89.90" y1="350.80" x2="89.90" y2="348.80" stroke="#000" stroke-width="1" shape-rendering="crispEdges"/>
<line x1="99.50" y1="350.80" x2="99.50" y2="348.80" stroke="#000" stroke-width="1" shape-rendering="crispEdges"/>
<line x1="92.70" y1="354.10" x2="92.70" y2="348.80" stroke="#000" stroke-width="1" shape-rendering="crispEdges"/>
<line x1="96.70" y1="354.10" x2="96.70" y2="348.80" stroke="#000" stroke-width="1" shape-rendering="crispEdges"/>
<rect x="109.70" y="232.40" width="19.60" height="7.20" fill="none" stroke="#000" stroke-width="1.2" shape-rendering="crispEdges"/>
<rect x="112.70" y="233.30" width="13.60" height="5.40" fill="none" stroke="#000" stroke-width="1" shape-rendering="crispEdges"/>
<path d="M111.70,246.50 L111.70,242.00 L112.50,241.20 L126.50,241.20 L127.30,242.00 L127.30,246.50" fill="none" stroke="#000" stroke-width="1"  shape-rendering="crispEdges"/>
<line x1="114.70" y1="242.90" x2="124.30" y2="242.90" stroke="#000" stroke-width="1" shape-rendering="crispEdges"/>
<line x1="113.50" y1="244.90" x2="125.50" y2="244.90" stroke="#000" stroke-width="1" shape-rendering="crispEdges"/>
<line x1="114.70" y1="242.90" x2="114.70" y2="244.90" stroke="#000" stroke-width="1" shape-rendering="crispEdges"/>
<line x1="124.30" y1="242.90" x2="124.30" y2="244.90" stroke="#000" stroke-width="1" shape-rendering="crispEdges"/>
<line x1="117.50" y1="239.60" x2="117.50" y2="244.90" stroke="#000" stroke-width="1" shape-rendering="crispEdges"/>
<line x1="121.50" y1="239.60" x2="121.50" y2="244.90" stroke="#000" stroke-width="1" shape-rendering="crispEdges"/>
<rect x="109.70" y="354.20" width="19.60" height="7.40" fill="none" stroke="#000" stroke-width="1.2" shape-rendering="crispEdges"/>
<rect x="112.70" y="355.10" width="13.60" height="5.60" fill="none" stroke="#000" stroke-width="1" shape-rendering="crispEdges"/>
<path d="M111.70,347.20 L111.70,351.70 L112.50,352.50 L126.50,352.50 L127.30,351.70 L127.30,347.20" fill="none" stroke="#000" stroke-width="1"  shape-rendering="crispEdges"/>
<line x1="114.70" y1="350.80" x2="124.30" y2="350.80" stroke="#000" stroke-width="1" shape-rendering="crispEdges"/>
<line x1="113.50" y1="348.80" x2="125.50" y2="348.80" stroke="#000" stroke-width="1" shape-rendering="crispEdges"/>
<line x1="114.70" y1="350.80" x2="114.70" y2="348.80" stroke="#000" stroke-width="1" shape-rendering="crispEdges"/>
<line x1="124.30" y1="350.80" x2="124.30" y2="348.80" stroke="#000" stroke-width="1" shape-rendering="crispEdges"/>
<line x1="117.50" y1="354.10" x2="117.50" y2="348.80" stroke="#000" stroke-width="1" shape-rendering="crispEdges"/>
<line x1="121.50" y1="354.10" x2="121.50" y2="348.80" stroke="#000" stroke-width="1" shape-rendering="crispEdges"/>
<rect x="134.50" y="232.40" width="19.60" height="7.20" fill="none" stroke="#000" stroke-width="1.2" shape-rendering="crispEdges"/>
<rect x="137.50" y="233.30" width="13.60" height="5.40" fill="none" stroke="#000" stroke-width="1" shape-rendering="crispEdges"/>
<path d="M136.50,246.50 L136.50,242.00 L137.30,241.20 L151.30,241.20 L152.10,242.00 L152.10,246.50" fill="none" stroke="#000" stroke-width="1"  shape-rendering="crispEdges"/>
<line x1="139.50" y1="242.90" x2="149.10" y2="242.90" stroke="#000" stroke-width="1" shape-rendering="crispEdges"/>
<line x1="138.30" y1="244.90" x2="150.30" y2="244.90" stroke="#000" stroke-width="1" shape-rendering="crispEdges"/>
<line x1="139.50" y1="242.90" x2="139.50" y2="244.90" stroke="#000" stroke-width="1" shape-rendering="crispEdges"/>
<line x1="149.10" y1="242.90" x2="149.10" y2="244.90" stroke="#000" stroke-width="1" shape-rendering="crispEdges"/>
<line x1="142.30" y1="239.60" x2="142.30" y2="244.90" stroke="#000" stroke-width="1" shape-rendering="crispEdges"/>
<line x1="146.30" y1="239.60" x2="146.30" y2="244.90" stroke="#000" stroke-width="1" shape-rendering="crispEdges"/>
<rect x="134.50" y="354.20" width="19.60" height="7.40" fill="none" stroke="#000" stroke-width="1.2" shape-rendering="crispEdges"/>
<rect x="137.50" y="355.10" width="13.60" height="5.60" fill="none" stroke="#000" stroke-width="1" shape-rendering="crispEdges"/>
<path d="M136.50,347.20 L136.50,351.70 L137.30,352.50 L151.30,352.50 L152.10,351.70 L152.10,347.20" fill="none" stroke="#000" stroke-width="1"  shape-rendering="crispEdges"/>
<line x1="139.50" y1="350.80" x2="149.10" y2="350.80" stroke="#000" stroke-width="1" shape-rendering="crispEdges"/>
<line x1="138.30" y1="348.80" x2="150.30" y2="348.80" stroke="#000" stroke-width="1" shape-rendering="crispEdges"/>
<line x1="139.50" y1="350.80" x2="139.50" y2="348.80" stroke="#000" stroke-width="1" shape-rendering="crispEdges"/>
<line x1="149.10" y1="350.80" x2="149.10" y2="348.80" stroke="#000" stroke-width="1" shape-rendering="crispEdges"/>
<line x1="142.30" y1="354.10" x2="142.30" y2="348.80" stroke="#000" stroke-width="1" shape-rendering="crispEdges"/>
<line x1="146.30" y1="354.10" x2="146.30" y2="348.80" stroke="#000" stroke-width="1" shape-rendering="crispEdges"/>
<rect x="159.60" y="232.40" width="19.60" height="7.20" fill="none" stroke="#000" stroke-width="1.2" shape-rendering="crispEdges"/>
<rect x="162.60" y="233.30" width="13.60" height="5.40" fill="none" stroke="#000" stroke-width="1" shape-rendering="crispEdges"/>
<path d="M161.60,246.50 L161.60,242.00 L162.40,241.20 L176.40,241.20 L177.20,242.00 L177.20,246.50" fill="none" stroke="#000" stroke-width="1"  shape-rendering="crispEdges"/>
<line x1="164.60" y1="242.90" x2="174.20" y2="242.90" stroke="#000" stroke-width="1" shape-rendering="crispEdges"/>
<line x1="163.40" y1="244.90" x2="175.40" y2="244.90" stroke="#000" stroke-width="1" shape-rendering="crispEdges"/>
<line x1="164.60" y1="242.90" x2="164.60" y2="244.90" stroke="#000" stroke-width="1" shape-rendering="crispEdges"/>
<line x1="174.20" y1="242.90" x2="174.20" y2="244.90" stroke="#000" stroke-width="1" shape-rendering="crispEdges"/>
<line x1="167.40" y1="239.60" x2="167.40" y2="244.90" stroke="#000" stroke-width="1" shape-rendering="crispEdges"/>
<line x1="171.40" y1="239.60" x2="171.40" y2="244.90" stroke="#000" stroke-width="1" shape-rendering="crispEdges"/>
<rect x="159.60" y="354.20" width="19.60" height="7.40" fill="none" stroke="#000" stroke-width="1.2" shape-rendering="crispEdges"/>
<rect x="162.60" y="355.10" width="13.60" height="5.60" fill="none" stroke="#000" stroke-width="1" shape-rendering="crispEdges"/>
<path d="M161.60,347.20 L161.60,351.70 L162.40,352.50 L176.40,352.50 L177.20,351.70 L177.20,347.20" fill="none" stroke="#000" stroke-width="1"  shape-rendering="crispEdges"/>
<line x1="164.60" y1="350.80" x2="174.20" y2="350.80" stroke="#000" stroke-width="1" shape-rendering="crispEdges"/>
<line x1="163.40" y1="348.80" x2="175.40" y2="348.80" stroke="#000" stroke-width="1" shape-rendering="crispEdges"/>
<line x1="164.60" y1="350.80" x2="164.60" y2="348.80" stroke="#000" stroke-width="1" shape-rendering="crispEdges"/>
<line x1="174.20" y1="350.80" x2="174.20" y2="348.80" stroke="#000" stroke-width="1" shape-rendering="crispEdges"/>
<line x1="167.40" y1="354.10" x2="167.40" y2="348.80" stroke="#000" stroke-width="1" shape-rendering="crispEdges"/>
<line x1="171.40" y1="354.10" x2="171.40" y2="348.80" stroke="#000" stroke-width="1" shape-rendering="crispEdges"/>
<rect x="184.70" y="232.40" width="19.60" height="7.20" fill="none" stroke="#000" stroke-width="1.2" shape-rendering="crispEdges"/>
<rect x="187.70" y="233.30" width="13.60" height="5.40" fill="none" stroke="#000" stroke-width="1" shape-rendering="crispEdges"/>
<path d="M186.70,246.50 L186.70,242.00 L187.50,241.20 L201.50,241.20 L202.30,242.00 L202.30,246.50" fill="none" stroke="#000" stroke-width="1"  shape-rendering="crispEdges"/>
<line x1="189.70" y1="242.90" x2="199.30" y2="242.90" stroke="#000" stroke-width="1" shape-rendering="crispEdges"/>
<line x1="188.50" y1="244.90" x2="200.50" y2="244.90" stroke="#000" stroke-width="1" shape-rendering="crispEdges"/>
<line x1="189.70" y1="242.90" x2="189.70" y2="244.90" stroke="#000" stroke-width="1" shape-rendering="crispEdges"/>
<line x1="199.30" y1="242.90" x2="199.30" y2="244.90" stroke="#000" stroke-width="1" shape-rendering="crispEdges"/>
<line x1="192.50" y1="239.60" x2="192.50" y2="244.90" stroke="#000" stroke-width="1" shape-rendering="crispEdges"/>
<line x1="196.50" y1="239.60" x2="196.50" y2="244.90" stroke="#000" stroke-width="1" shape-rendering="crispEdges"/>
<rect x="184.70" y="354.20" width="19.60" height="7.40" fill="none" stroke="#000" stroke-width="1.2" shape-rendering="crispEdges"/>
<rect x="187.70" y="355.10" width="13.60" height="5.60" fill="none" stroke="#000" stroke-width="1" shape-rendering="crispEdges"/>
<path d="M186.70,347.20 L186.70,351.70 L187.50,352.50 L201.50,352.50 L202.30,351.70 L202.30,347.20" fill="none" stroke="#000" stroke-width="1"  shape-rendering="crispEdges"/>
<line x1="189.70" y1="350.80" x2="199.30" y2="350.80" stroke="#000" stroke-width="1" shape-rendering="crispEdges"/>
<line x1="188.50" y1="348.80" x2="200.50" y2="348.80" stroke="#000" stroke-width="1" shape-rendering="crispEdges"/>
<line x1="189.70" y1="350.80" x2="189.70" y2="348.80" stroke="#000" stroke-width="1" shape-rendering="crispEdges"/>
<line x1="199.30" y1="350.80" x2="199.30" y2="348.80" stroke="#000" stroke-width="1" shape-rendering="crispEdges"/>
<line x1="192.50" y1="354.10" x2="192.50" y2="348.80" stroke="#000" stroke-width="1" shape-rendering="crispEdges"/>
<line x1="196.50" y1="354.10" x2="196.50" y2="348.80" stroke="#000" stroke-width="1" shape-rendering="crispEdges"/>
<rect x="209.80" y="232.40" width="19.60" height="7.20" fill="none" stroke="#000" stroke-width="1.2" shape-rendering="crispEdges"/>
<rect x="212.80" y="233.30" width="13.60" height="5.40" fill="none" stroke="#000" stroke-width="1" shape-rendering="crispEdges"/>
<path d="M211.80,246.50 L211.80,242.00 L212.60,241.20 L226.60,241.20 L227.40,242.00 L227.40,246.50" fill="none" stroke="#000" stroke-width="1"  shape-rendering="crispEdges"/>
<line x1="214.80" y1="242.90" x2="224.40" y2="242.90" stroke="#000" stroke-width="1" shape-rendering="crispEdges"/>
<line x1="213.60" y1="244.90" x2="225.60" y2="244.90" stroke="#000" stroke-width="1" shape-rendering="crispEdges"/>
<line x1="214.80" y1="242.90" x2="214.80" y2="244.90" stroke="#000" stroke-width="1" shape-rendering="crispEdges"/>
<line x1="224.40" y1="242.90" x2="224.40" y2="244.90" stroke="#000" stroke-width="1" shape-rendering="crispEdges"/>
<line x1="217.60" y1="239.60" x2="217.60" y2="244.90" stroke="#000" stroke-width="1" shape-rendering="crispEdges"/>
<line x1="221.60" y1="239.60" x2="221.60" y2="244.90" stroke="#000" stroke-width="1" shape-rendering="crispEdges"/>
<rect x="209.80" y="354.20" width="19.60" height="7.40" fill="none" stroke="#000" stroke-width="1.2" shape-rendering="crispEdges"/>
<rect x="212.80" y="355.10" width="13.60" height="5.60" fill="none" stroke="#000" stroke-width="1" shape-rendering="crispEdges"/>
<path d="M211.80,347.20 L211.80,351.70 L212.60,352.50 L226.60,352.50 L227.40,351.70 L227.40,347.20" fill="none" stroke="#000" stroke-width="1"  shape-rendering="crispEdges"/>
<line x1="214.80" y1="350.80" x2="224.40" y2="350.80" stroke="#000" stroke-width="1" shape-rendering="crispEdges"/>
<line x1="213.60" y1="348.80" x2="225.60" y2="348.80" stroke="#000" stroke-width="1" shape-rendering="crispEdges"/>
<line x1="214.80" y1="350.80" x2="214.80" y2="348.80" stroke="#000" stroke-width="1" shape-rendering="crispEdges"/>
<line x1="224.40" y1="350.80" x2="224.40" y2="348.80" stroke="#000" stroke-width="1" shape-rendering="crispEdges"/>
<line x1="217.60" y1="354.10" x2="217.60" y2="348.80" stroke="#000" stroke-width="1" shape-rendering="crispEdges"/>
<line x1="221.60" y1="354.10" x2="221.60" y2="348.80" stroke="#000" stroke-width="1" shape-rendering="crispEdges"/>
<rect x="235.50" y="232.40" width="19.60" height="7.20" fill="none" stroke="#000" stroke-width="1.2" shape-rendering="crispEdges"/>
<rect x="238.50" y="233.30" width="13.60" height="5.40" fill="none" stroke="#000" stroke-width="1" shape-rendering="crispEdges"/>
<path d="M237.50,246.50 L237.50,242.00 L238.30,241.20 L252.30,241.20 L253.10,242.00 L253.10,246.50" fill="none" stroke="#000" stroke-width="1"  shape-rendering="crispEdges"/>
<line x1="240.50" y1="242.90" x2="250.10" y2="242.90" stroke="#000" stroke-width="1" shape-rendering="crispEdges"/>
<line x1="239.30" y1="244.90" x2="251.30" y2="244.90" stroke="#000" stroke-width="1" shape-rendering="crispEdges"/>
<line x1="240.50" y1="242.90" x2="240.50" y2="244.90" stroke="#000" stroke-width="1" shape-rendering="crispEdges"/>
<line x1="250.10" y1="242.90" x2="250.10" y2="244.90" stroke="#000" stroke-width="1" shape-rendering="crispEdges"/>
<line x1="243.30" y1="239.60" x2="243.30" y2="244.90" stroke="#000" stroke-width="1" shape-rendering="crispEdges"/>
<line x1="247.30" y1="239.60" x2="247.30" y2="244.90" stroke="#000" stroke-width="1" shape-rendering="crispEdges"/>
<rect x="235.50" y="354.20" width="19.60" height="7.40" fill="none" stroke="#000" stroke-width="1.2" shape-rendering="crispEdges"/>
<rect x="238.50" y="355.10" width="13.60" height="5.60" fill="none" stroke="#000" stroke-width="1" shape-rendering="crispEdges"/>
<path d="M237.50,347.20 L237.50,351.70 L238.30,352.50 L252.30,352.50 L253.10,351.70 L253.10,347.20" fill="none" stroke="#000" stroke-width="1"  shape-rendering="crispEdges"/>
<line x1="240.50" y1="350.80" x2="250.10" y2="350.80" stroke="#000" stroke-width="1" shape-rendering="crispEdges"/>
<line x1="239.30" y1="348.80" x2="251.30" y2="348.80" stroke="#000" stroke-width="1" shape-rendering="crispEdges"/>
<line x1="240.50" y1="350.80" x2="240.50" y2="348.80" stroke="#000" stroke-width="1" shape-rendering="crispEdges"/>
<line x1="250.10" y1="350.80" x2="250.10" y2="348.80" stroke="#000" stroke-width="1" shape-rendering="crispEdges"/>
<line x1="243.30" y1="354.10" x2="243.30" y2="348.80" stroke="#000" stroke-width="1" shape-rendering="crispEdges"/>
<line x1="247.30" y1="354.10" x2="247.30" y2="348.80" stroke="#000" stroke-width="1" shape-rendering="crispEdges"/>
<rect x="260.60" y="232.40" width="19.60" height="7.20" fill="none" stroke="#000" stroke-width="1.2" shape-rendering="crispEdges"/>
<rect x="263.60" y="233.30" width="13.60" height="5.40" fill="none" stroke="#000" stroke-width="1" shape-rendering="crispEdges"/>
<path d="M262.60,246.50 L262.60,242.00 L263.40,241.20 L277.40,241.20 L278.20,242.00 L278.20,246.50" fill="none" stroke="#000" stroke-width="1"  shape-rendering="crispEdges"/>
<line x1="265.60" y1="242.90" x2="275.20" y2="242.90" stroke="#000" stroke-width="1" shape-rendering="crispEdges"/>
<line x1="264.40" y1="244.90" x2="276.40" y2="244.90" stroke="#000" stroke-width="1" shape-rendering="crispEdges"/>
<line x1="265.60" y1="242.90" x2="265.60" y2="244.90" stroke="#000" stroke-width="1" shape-rendering="crispEdges"/>
<line x1="275.20" y1="242.90" x2="275.20" y2="244.90" stroke="#000" stroke-width="1" shape-rendering="crispEdges"/>
<line x1="268.40" y1="239.60" x2="268.40" y2="244.90" stroke="#000" stroke-width="1" shape-rendering="crispEdges"/>
<line x1="272.40" y1="239.60" x2="272.40" y2="244.90" stroke="#000" stroke-width="1" shape-rendering="crispEdges"/>
<rect x="260.60" y="354.20" width="19.60" height="7.40" fill="none" stroke="#000" stroke-width="1.2" shape-rendering="crispEdges"/>
<rect x="263.60" y="355.10" width="13.60" height="5.60" fill="none" stroke="#000" stroke-width="1" shape-rendering="crispEdges"/>
<path d="M262.60,347.20 L262.60,351.70 L263.40,352.50 L277.40,352.50 L278.20,351.70 L278.20,347.20" fill="none" stroke="#000" stroke-width="1"  shape-rendering="crispEdges"/>
<line x1="265.60" y1="350.80" x2="275.20" y2="350.80" stroke="#000" stroke-width="1" shape-rendering="crispEdges"/>
<line x1="264.40" y1="348.80" x2="276.40" y2="348.80" stroke="#000" stroke-width="1" shape-rendering="crispEdges"/>
<line x1="265.60" y1="350.80" x2="265.60" y2="348.80" stroke="#000" stroke-width="1" shape-rendering="crispEdges"/>
<line x1="275.20" y1="350.80" x2="275.20" y2="348.80" stroke="#000" stroke-width="1" shape-rendering="crispEdges"/>
<line x1="268.40" y1="354.10" x2="268.40" y2="348.80" stroke="#000" stroke-width="1" shape-rendering="crispEdges"/>
<line x1="272.40" y1="354.10" x2="272.40" y2="348.80" stroke="#000" stroke-width="1" shape-rendering="crispEdges"/>
<rect x="285.70" y="232.40" width="19.60" height="7.20" fill="none" stroke="#000" stroke-width="1.2" shape-rendering="crispEdges"/>
<rect x="288.70" y="233.30" width="13.60" height="5.40" fill="none" stroke="#000" stroke-width="1" shape-rendering="crispEdges"/>
<path d="M287.70,246.50 L287.70,242.00 L288.50,241.20 L302.50,241.20 L303.30,242.00 L303.30,246.50" fill="none" stroke="#000" stroke-width="1"  shape-rendering="crispEdges"/>
<line x1="290.70" y1="242.90" x2="300.30" y2="242.90" stroke="#000" stroke-width="1" shape-rendering="crispEdges"/>
<line x1="289.50" y1="244.90" x2="301.50" y2="244.90" stroke="#000" stroke-width="1" shape-rendering="crispEdges"/>
<line x1="290.70" y1="242.90" x2="290.70" y2="244.90" stroke="#000" stroke-width="1" shape-rendering="crispEdges"/>
<line x1="300.30" y1="242.90" x2="300.30" y2="244.90" stroke="#000" stroke-width="1" shape-rendering="crispEdges"/>
<line x1="293.50" y1="239.60" x2="293.50" y2="244.90" stroke="#000" stroke-width="1" shape-rendering="crispEdges"/>
<line x1="297.50" y1="239.60" x2="297.50" y2="244.90" stroke="#000" stroke-width="1" shape-rendering="crispEdges"/>
<rect x="285.70" y="354.20" width="19.60" height="7.40" fill="none" stroke="#000" stroke-width="1.2" shape-rendering="crispEdges"/>
<rect x="288.70" y="355.10" width="13.60" height="5.60" fill="none" stroke="#000" stroke-width="1" shape-rendering="crispEdges"/>
<path d="M287.70,347.20 L287.70,351.70 L288.50,352.50 L302.50,352.50 L303.30,351.70 L303.30,347.20" fill="none" stroke="#000" stroke-width="1"  shape-rendering="crispEdges"/>
<line x1="290.70" y1="350.80" x2="300.30" y2="350.80" stroke="#000" stroke-width="1" shape-rendering="crispEdges"/>
<line x1="289.50" y1="348.80" x2="301.50" y2="348.80" stroke="#000" stroke-width="1" shape-rendering="crispEdges"/>
<line x1="290.70" y1="350.80" x2="290.70" y2="348.80" stroke="#000" stroke-width="1" shape-rendering="crispEdges"/>
<line x1="300.30" y1="350.80" x2="300.30" y2="348.80" stroke="#000" stroke-width="1" shape-rendering="crispEdges"/>
<line x1="293.50" y1="354.10" x2="293.50" y2="348.80" stroke="#000" stroke-width="1" shape-rendering="crispEdges"/>
<line x1="297.50" y1="354.10" x2="297.50" y2="348.80" stroke="#000" stroke-width="1" shape-rendering="crispEdges"/>
<rect x="310.70" y="232.40" width="19.60" height="7.20" fill="none" stroke="#000" stroke-width="1.2" shape-rendering="crispEdges"/>
<rect x="313.70" y="233.30" width="13.60" height="5.40" fill="none" stroke="#000" stroke-width="1" shape-rendering="crispEdges"/>
<path d="M312.70,246.50 L312.70,242.00 L313.50,241.20 L327.50,241.20 L328.30,242.00 L328.30,246.50" fill="none" stroke="#000" stroke-width="1"  shape-rendering="crispEdges"/>
<line x1="315.70" y1="242.90" x2="325.30" y2="242.90" stroke="#000" stroke-width="1" shape-rendering="crispEdges"/>
<line x1="314.50" y1="244.90" x2="326.50" y2="244.90" stroke="#000" stroke-width="1" shape-rendering="crispEdges"/>
<line x1="315.70" y1="242.90" x2="315.70" y2="244.90" stroke="#000" stroke-width="1" shape-rendering="crispEdges"/>
<line x1="325.30" y1="242.90" x2="325.30" y2="244.90" stroke="#000" stroke-width="1" shape-rendering="crispEdges"/>
<line x1="318.50" y1="239.60" x2="318.50" y2="244.90" stroke="#000" stroke-width="1" shape-rendering="crispEdges"/>
<line x1="322.50" y1="239.60" x2="322.50" y2="244.90" stroke="#000" stroke-width="1" shape-rendering="crispEdges"/>
<rect x="310.70" y="354.20" width="19.60" height="7.40" fill="none" stroke="#000" stroke-width="1.2" shape-rendering="crispEdges"/>
<rect x="313.70" y="355.10" width="13.60" height="5.60" fill="none" stroke="#000" stroke-width="1" shape-rendering="crispEdges"/>
<path d="M312.70,347.20 L312.70,351.70 L313.50,352.50 L327.50,352.50 L328.30,351.70 L328.30,347.20" fill="none" stroke="#000" stroke-width="1"  shape-rendering="crispEdges"/>
<line x1="315.70" y1="350.80" x2="325.30" y2="350.80" stroke="#000" stroke-width="1" shape-rendering="crispEdges"/>
<line x1="314.50" y1="348.80" x2="326.50" y2="348.80" stroke="#000" stroke-width="1" shape-rendering="crispEdges"/>
<line x1="315.70" y1="350.80" x2="315.70" y2="348.80" stroke="#000" stroke-width="1" shape-rendering="crispEdges"/>
<line x1="325.30" y1="350.80" x2="325.30" y2="348.80" stroke="#000" stroke-width="1" shape-rendering="crispEdges"/>
<line x1="318.50" y1="354.10" x2="318.50" y2="348.80" stroke="#000" stroke-width="1" shape-rendering="crispEdges"/>
<line x1="322.50" y1="354.10" x2="322.50" y2="348.80" stroke="#000" stroke-width="1" shape-rendering="crispEdges"/>
<line x1="78.20" y1="376.50" x2="340.90" y2="376.50" stroke="#000" stroke-width="1" shape-rendering="crispEdges"/>
<line x1="78.20" y1="401.50" x2="340.90" y2="401.50" stroke="#000" stroke-width="1" shape-rendering="crispEdges"/>
<line x1="78.20" y1="376.50" x2="78.20" y2="401.40" stroke="#000" stroke-width="1" shape-rendering="crispEdges"/>
<line x1="340.90" y1="376.50" x2="340.90" y2="401.40" stroke="#000" stroke-width="1" shape-rendering="crispEdges"/>
<line x1="91.10" y1="361.60" x2="91.10" y2="376.50" stroke="#000" stroke-width="1" shape-rendering="crispEdges"/>
<line x1="98.50" y1="361.60" x2="98.50" y2="376.50" stroke="#000" stroke-width="1" shape-rendering="crispEdges"/>
<line x1="96.10" y1="361.60" x2="96.10" y2="376.50" stroke="#000" stroke-width="1" shape-rendering="crispEdges"/>
<line x1="87.70" y1="370.00" x2="101.00" y2="370.00" stroke="#000" stroke-width="3.4" shape-rendering="crispEdges"/>
<line x1="84.20" y1="373.50" x2="104.20" y2="373.50" stroke="#000" stroke-width="1" shape-rendering="crispEdges" stroke-dasharray="3 2"/>
<line x1="104.20" y1="373.50" x2="104.20" y2="376.50" stroke="#000" stroke-width="1" shape-rendering="crispEdges"/>
<line x1="89.70" y1="375.00" x2="98.70" y2="375.00" stroke="#000" stroke-width="1" shape-rendering="crispEdges"/>
<line x1="83.40" y1="376.50" x2="83.40" y2="393.60" stroke="#000" stroke-width="1" shape-rendering="crispEdges"/>
<line x1="85.00" y1="376.50" x2="85.00" y2="393.60" stroke="#000" stroke-width="1" shape-rendering="crispEdges"/>
<line x1="102.80" y1="376.50" x2="102.80" y2="393.60" stroke="#000" stroke-width="1" shape-rendering="crispEdges"/>
<line x1="104.40" y1="376.50" x2="104.40" y2="393.60" stroke="#000" stroke-width="1" shape-rendering="crispEdges"/>
<line x1="83.40" y1="393.00" x2="104.40" y2="393.00" stroke="#000" stroke-width="2" shape-rendering="crispEdges"/>
<rect x="94" y="385" width="2" height="7" fill="#000" shape-rendering="crispEdges"/>
<line x1="86.30" y1="395.50" x2="102.10" y2="395.50" stroke="#000" stroke-width="1" shape-rendering="crispEdges"/>
<line x1="84.40" y1="397.50" x2="104.40" y2="397.50" stroke="#000" stroke-width="1" shape-rendering="crispEdges"/>
<line x1="86.30" y1="399.50" x2="102.10" y2="399.50" stroke="#000" stroke-width="1" shape-rendering="crispEdges"/>
<path d="M84.30,402 L84.30,429.5 Q84.70,433 88.20,433 L100.70,433 Q104.00,433 104.50,429.5 L104.50,402" fill="none" stroke="#000" stroke-width="1.1" />
<line x1="84.30" y1="402.00" x2="104.50" y2="402.00" stroke="#000" stroke-width="1" shape-rendering="crispEdges"/>
<line x1="84.70" y1="430.30" x2="104.10" y2="430.30" stroke="#000" stroke-width="1" shape-rendering="crispEdges"/>
<line x1="115.90" y1="361.60" x2="115.90" y2="376.50" stroke="#000" stroke-width="1" shape-rendering="crispEdges"/>
<line x1="123.30" y1="361.60" x2="123.30" y2="376.50" stroke="#000" stroke-width="1" shape-rendering="crispEdges"/>
<line x1="120.90" y1="361.60" x2="120.90" y2="376.50" stroke="#000" stroke-width="1" shape-rendering="crispEdges"/>
<rect x="112.20" y="367.4" width="14.4" height="4.3" rx="1.5" fill="none" stroke="#000" stroke-width="1.1"/>
<line x1="112.50" y1="368.60" x2="126.50" y2="368.60" stroke="#000" stroke-width="1" shape-rendering="crispEdges"/>
<line x1="112.50" y1="370.60" x2="126.50" y2="370.60" stroke="#000" stroke-width="1" shape-rendering="crispEdges"/>
<line x1="108.20" y1="376.50" x2="108.20" y2="393.60" stroke="#000" stroke-width="1" shape-rendering="crispEdges"/>
<line x1="109.80" y1="376.50" x2="109.80" y2="393.60" stroke="#000" stroke-width="1" shape-rendering="crispEdges"/>
<line x1="127.60" y1="376.50" x2="127.60" y2="393.60" stroke="#000" stroke-width="1" shape-rendering="crispEdges"/>
<line x1="129.20" y1="376.50" x2="129.20" y2="393.60" stroke="#000" stroke-width="1" shape-rendering="crispEdges"/>
<line x1="108.20" y1="393.00" x2="129.20" y2="393.00" stroke="#000" stroke-width="2" shape-rendering="crispEdges"/>
<rect x="119" y="385" width="2" height="7" fill="#000" shape-rendering="crispEdges"/>
<line x1="111.10" y1="395.50" x2="126.90" y2="395.50" stroke="#000" stroke-width="1" shape-rendering="crispEdges"/>
<line x1="109.20" y1="397.50" x2="129.20" y2="397.50" stroke="#000" stroke-width="1" shape-rendering="crispEdges"/>
<line x1="111.10" y1="399.50" x2="126.90" y2="399.50" stroke="#000" stroke-width="1" shape-rendering="crispEdges"/>
<path d="M109.10,402 L109.10,429.5 Q109.50,433 113.00,433 L125.50,433 Q128.80,433 129.30,429.5 L129.30,402" fill="none" stroke="#000" stroke-width="1.1" />
<line x1="109.10" y1="402.00" x2="129.30" y2="402.00" stroke="#000" stroke-width="1" shape-rendering="crispEdges"/>
<line x1="109.50" y1="430.30" x2="128.90" y2="430.30" stroke="#000" stroke-width="1" shape-rendering="crispEdges"/>
<line x1="140.70" y1="361.60" x2="140.70" y2="376.50" stroke="#000" stroke-width="1" shape-rendering="crispEdges"/>
<line x1="148.10" y1="361.60" x2="148.10" y2="376.50" stroke="#000" stroke-width="1" shape-rendering="crispEdges"/>
<line x1="145.70" y1="361.60" x2="145.70" y2="376.50" stroke="#000" stroke-width="1" shape-rendering="crispEdges"/>
<rect x="137.00" y="367.4" width="14.4" height="4.3" rx="1.5" fill="none" stroke="#000" stroke-width="1.1"/>
<line x1="137.30" y1="368.60" x2="151.30" y2="368.60" stroke="#000" stroke-width="1" shape-rendering="crispEdges"/>
<line x1="137.30" y1="370.60" x2="151.30" y2="370.60" stroke="#000" stroke-width="1" shape-rendering="crispEdges"/>
<line x1="133.00" y1="376.50" x2="133.00" y2="393.60" stroke="#000" stroke-width="1" shape-rendering="crispEdges"/>
<line x1="134.60" y1="376.50" x2="134.60" y2="393.60" stroke="#000" stroke-width="1" shape-rendering="crispEdges"/>
<line x1="152.40" y1="376.50" x2="152.40" y2="393.60" stroke="#000" stroke-width="1" shape-rendering="crispEdges"/>
<line x1="154.00" y1="376.50" x2="154.00" y2="393.60" stroke="#000" stroke-width="1" shape-rendering="crispEdges"/>
<line x1="133.00" y1="393.00" x2="154.00" y2="393.00" stroke="#000" stroke-width="2" shape-rendering="crispEdges"/>
<rect x="143" y="385" width="2" height="7" fill="#000" shape-rendering="crispEdges"/>
<line x1="135.90" y1="395.50" x2="151.70" y2="395.50" stroke="#000" stroke-width="1" shape-rendering="crispEdges"/>
<line x1="134.00" y1="397.50" x2="154.00" y2="397.50" stroke="#000" stroke-width="1" shape-rendering="crispEdges"/>
<line x1="135.90" y1="399.50" x2="151.70" y2="399.50" stroke="#000" stroke-width="1" shape-rendering="crispEdges"/>
<path d="M133.90,402 L133.90,429.5 Q134.30,433 137.80,433 L150.30,433 Q153.60,433 154.10,429.5 L154.10,402" fill="none" stroke="#000" stroke-width="1.1" />
<line x1="133.90" y1="402.00" x2="154.10" y2="402.00" stroke="#000" stroke-width="1" shape-rendering="crispEdges"/>
<line x1="134.30" y1="430.30" x2="153.70" y2="430.30" stroke="#000" stroke-width="1" shape-rendering="crispEdges"/>
<line x1="165.80" y1="361.60" x2="165.80" y2="376.50" stroke="#000" stroke-width="1" shape-rendering="crispEdges"/>
<line x1="173.20" y1="361.60" x2="173.20" y2="376.50" stroke="#000" stroke-width="1" shape-rendering="crispEdges"/>
<line x1="170.80" y1="361.60" x2="170.80" y2="376.50" stroke="#000" stroke-width="1" shape-rendering="crispEdges"/>
<rect x="162.10" y="367.4" width="14.4" height="4.3" rx="1.5" fill="none" stroke="#000" stroke-width="1.1"/>
<line x1="162.40" y1="368.60" x2="176.40" y2="368.60" stroke="#000" stroke-width="1" shape-rendering="crispEdges"/>
<line x1="162.40" y1="370.60" x2="176.40" y2="370.60" stroke="#000" stroke-width="1" shape-rendering="crispEdges"/>
<line x1="158.10" y1="376.50" x2="158.10" y2="393.60" stroke="#000" stroke-width="1" shape-rendering="crispEdges"/>
<line x1="159.70" y1="376.50" x2="159.70" y2="393.60" stroke="#000" stroke-width="1" shape-rendering="crispEdges"/>
<line x1="177.50" y1="376.50" x2="177.50" y2="393.60" stroke="#000" stroke-width="1" shape-rendering="crispEdges"/>
<line x1="179.10" y1="376.50" x2="179.10" y2="393.60" stroke="#000" stroke-width="1" shape-rendering="crispEdges"/>
<line x1="158.10" y1="393.00" x2="179.10" y2="393.00" stroke="#000" stroke-width="2" shape-rendering="crispEdges"/>
<rect x="168" y="385" width="2" height="7" fill="#000" shape-rendering="crispEdges"/>
<line x1="161.00" y1="395.50" x2="176.80" y2="395.50" stroke="#000" stroke-width="1" shape-rendering="crispEdges"/>
<line x1="159.10" y1="397.50" x2="179.10" y2="397.50" stroke="#000" stroke-width="1" shape-rendering="crispEdges"/>
<line x1="161.00" y1="399.50" x2="176.80" y2="399.50" stroke="#000" stroke-width="1" shape-rendering="crispEdges"/>
<path d="M159.00,402 L159.00,429.5 Q159.40,433 162.90,433 L175.40,433 Q178.70,433 179.20,429.5 L179.20,402" fill="none" stroke="#000" stroke-width="1.1" />
<line x1="159.00" y1="402.00" x2="179.20" y2="402.00" stroke="#000" stroke-width="1" shape-rendering="crispEdges"/>
<line x1="159.40" y1="430.30" x2="178.80" y2="430.30" stroke="#000" stroke-width="1" shape-rendering="crispEdges"/>
<line x1="190.90" y1="361.60" x2="190.90" y2="376.50" stroke="#000" stroke-width="1" shape-rendering="crispEdges"/>
<line x1="198.30" y1="361.60" x2="198.30" y2="376.50" stroke="#000" stroke-width="1" shape-rendering="crispEdges"/>
<line x1="195.90" y1="361.60" x2="195.90" y2="376.50" stroke="#000" stroke-width="1" shape-rendering="crispEdges"/>
<rect x="187.20" y="367.4" width="14.4" height="4.3" rx="1.5" fill="none" stroke="#000" stroke-width="1.1"/>
<line x1="187.50" y1="368.60" x2="201.50" y2="368.60" stroke="#000" stroke-width="1" shape-rendering="crispEdges"/>
<line x1="187.50" y1="370.60" x2="201.50" y2="370.60" stroke="#000" stroke-width="1" shape-rendering="crispEdges"/>
<line x1="183.20" y1="376.50" x2="183.20" y2="393.60" stroke="#000" stroke-width="1" shape-rendering="crispEdges"/>
<line x1="184.80" y1="376.50" x2="184.80" y2="393.60" stroke="#000" stroke-width="1" shape-rendering="crispEdges"/>
<line x1="202.60" y1="376.50" x2="202.60" y2="393.60" stroke="#000" stroke-width="1" shape-rendering="crispEdges"/>
<line x1="204.20" y1="376.50" x2="204.20" y2="393.60" stroke="#000" stroke-width="1" shape-rendering="crispEdges"/>
<line x1="183.20" y1="393.00" x2="204.20" y2="393.00" stroke="#000" stroke-width="2" shape-rendering="crispEdges"/>
<rect x="193" y="385" width="2" height="7" fill="#000" shape-rendering="crispEdges"/>
<line x1="186.10" y1="395.50" x2="201.90" y2="395.50" stroke="#000" stroke-width="1" shape-rendering="crispEdges"/>
<line x1="184.20" y1="397.50" x2="204.20" y2="397.50" stroke="#000" stroke-width="1" shape-rendering="crispEdges"/>
<line x1="186.10" y1="399.50" x2="201.90" y2="399.50" stroke="#000" stroke-width="1" shape-rendering="crispEdges"/>
<path d="M184.10,402 L184.10,429.5 Q184.50,433 188.00,433 L200.50,433 Q203.80,433 204.30,429.5 L204.30,402" fill="none" stroke="#000" stroke-width="1.1" />
<line x1="184.10" y1="402.00" x2="204.30" y2="402.00" stroke="#000" stroke-width="1" shape-rendering="crispEdges"/>
<line x1="184.50" y1="430.30" x2="203.90" y2="430.30" stroke="#000" stroke-width="1" shape-rendering="crispEdges"/>
<line x1="216.00" y1="361.60" x2="216.00" y2="376.50" stroke="#000" stroke-width="1" shape-rendering="crispEdges"/>
<line x1="223.40" y1="361.60" x2="223.40" y2="376.50" stroke="#000" stroke-width="1" shape-rendering="crispEdges"/>
<line x1="221.00" y1="361.60" x2="221.00" y2="376.50" stroke="#000" stroke-width="1" shape-rendering="crispEdges"/>
<rect x="212.30" y="367.4" width="14.4" height="4.3" rx="1.5" fill="none" stroke="#000" stroke-width="1.1"/>
<line x1="212.60" y1="368.60" x2="226.60" y2="368.60" stroke="#000" stroke-width="1" shape-rendering="crispEdges"/>
<line x1="212.60" y1="370.60" x2="226.60" y2="370.60" stroke="#000" stroke-width="1" shape-rendering="crispEdges"/>
<line x1="208.30" y1="376.50" x2="208.30" y2="393.60" stroke="#000" stroke-width="1" shape-rendering="crispEdges"/>
<line x1="209.90" y1="376.50" x2="209.90" y2="393.60" stroke="#000" stroke-width="1" shape-rendering="crispEdges"/>
<line x1="227.70" y1="376.50" x2="227.70" y2="393.60" stroke="#000" stroke-width="1" shape-rendering="crispEdges"/>
<line x1="229.30" y1="376.50" x2="229.30" y2="393.60" stroke="#000" stroke-width="1" shape-rendering="crispEdges"/>
<line x1="208.30" y1="393.00" x2="229.30" y2="393.00" stroke="#000" stroke-width="2" shape-rendering="crispEdges"/>
<rect x="219" y="385" width="2" height="7" fill="#000" shape-rendering="crispEdges"/>
<line x1="211.20" y1="395.50" x2="227.00" y2="395.50" stroke="#000" stroke-width="1" shape-rendering="crispEdges"/>
<line x1="209.30" y1="397.50" x2="229.30" y2="397.50" stroke="#000" stroke-width="1" shape-rendering="crispEdges"/>
<line x1="211.20" y1="399.50" x2="227.00" y2="399.50" stroke="#000" stroke-width="1" shape-rendering="crispEdges"/>
<path d="M209.20,402 L209.20,429.5 Q209.60,433 213.10,433 L225.60,433 Q228.90,433 229.40,429.5 L229.40,402" fill="none" stroke="#000" stroke-width="1.1" />
<line x1="209.20" y1="402.00" x2="229.40" y2="402.00" stroke="#000" stroke-width="1" shape-rendering="crispEdges"/>
<line x1="209.60" y1="430.30" x2="229.00" y2="430.30" stroke="#000" stroke-width="1" shape-rendering="crispEdges"/>
<line x1="241.70" y1="361.60" x2="241.70" y2="376.50" stroke="#000" stroke-width="1" shape-rendering="crispEdges"/>
<line x1="249.10" y1="361.60" x2="249.10" y2="376.50" stroke="#000" stroke-width="1" shape-rendering="crispEdges"/>
<line x1="246.70" y1="361.60" x2="246.70" y2="376.50" stroke="#000" stroke-width="1" shape-rendering="crispEdges"/>
<rect x="238.00" y="367.4" width="14.4" height="4.3" rx="1.5" fill="none" stroke="#000" stroke-width="1.1"/>
<line x1="238.30" y1="368.60" x2="252.30" y2="368.60" stroke="#000" stroke-width="1" shape-rendering="crispEdges"/>
<line x1="238.30" y1="370.60" x2="252.30" y2="370.60" stroke="#000" stroke-width="1" shape-rendering="crispEdges"/>
<line x1="234.00" y1="376.50" x2="234.00" y2="393.60" stroke="#000" stroke-width="1" shape-rendering="crispEdges"/>
<line x1="235.60" y1="376.50" x2="235.60" y2="393.60" stroke="#000" stroke-width="1" shape-rendering="crispEdges"/>
<line x1="253.40" y1="376.50" x2="253.40" y2="393.60" stroke="#000" stroke-width="1" shape-rendering="crispEdges"/>
<line x1="255.00" y1="376.50" x2="255.00" y2="393.60" stroke="#000" stroke-width="1" shape-rendering="crispEdges"/>
<line x1="234.00" y1="393.00" x2="255.00" y2="393.00" stroke="#000" stroke-width="2" shape-rendering="crispEdges"/>
<rect x="244" y="385" width="2" height="7" fill="#000" shape-rendering="crispEdges"/>
<line x1="236.90" y1="395.50" x2="252.70" y2="395.50" stroke="#000" stroke-width="1" shape-rendering="crispEdges"/>
<line x1="235.00" y1="397.50" x2="255.00" y2="397.50" stroke="#000" stroke-width="1" shape-rendering="crispEdges"/>
<line x1="236.90" y1="399.50" x2="252.70" y2="399.50" stroke="#000" stroke-width="1" shape-rendering="crispEdges"/>
<path d="M234.90,402 L234.90,429.5 Q235.30,433 238.80,433 L251.30,433 Q254.60,433 255.10,429.5 L255.10,402" fill="none" stroke="#000" stroke-width="1.1" />
<line x1="234.90" y1="402.00" x2="255.10" y2="402.00" stroke="#000" stroke-width="1" shape-rendering="crispEdges"/>
<line x1="235.30" y1="430.30" x2="254.70" y2="430.30" stroke="#000" stroke-width="1" shape-rendering="crispEdges"/>
<line x1="266.80" y1="361.60" x2="266.80" y2="376.50" stroke="#000" stroke-width="1" shape-rendering="crispEdges"/>
<line x1="274.20" y1="361.60" x2="274.20" y2="376.50" stroke="#000" stroke-width="1" shape-rendering="crispEdges"/>
<line x1="271.80" y1="361.60" x2="271.80" y2="376.50" stroke="#000" stroke-width="1" shape-rendering="crispEdges"/>
<rect x="263.10" y="367.4" width="14.4" height="4.3" rx="1.5" fill="none" stroke="#000" stroke-width="1.1"/>
<line x1="263.40" y1="368.60" x2="277.40" y2="368.60" stroke="#000" stroke-width="1" shape-rendering="crispEdges"/>
<line x1="263.40" y1="370.60" x2="277.40" y2="370.60" stroke="#000" stroke-width="1" shape-rendering="crispEdges"/>
<line x1="259.10" y1="376.50" x2="259.10" y2="393.60" stroke="#000" stroke-width="1" shape-rendering="crispEdges"/>
<line x1="260.70" y1="376.50" x2="260.70" y2="393.60" stroke="#000" stroke-width="1" shape-rendering="crispEdges"/>
<line x1="278.50" y1="376.50" x2="278.50" y2="393.60" stroke="#000" stroke-width="1" shape-rendering="crispEdges"/>
<line x1="280.10" y1="376.50" x2="280.10" y2="393.60" stroke="#000" stroke-width="1" shape-rendering="crispEdges"/>
<line x1="259.10" y1="393.00" x2="280.10" y2="393.00" stroke="#000" stroke-width="2" shape-rendering="crispEdges"/>
<rect x="269" y="385" width="2" height="7" fill="#000" shape-rendering="crispEdges"/>
<line x1="262.00" y1="395.50" x2="277.80" y2="395.50" stroke="#000" stroke-width="1" shape-rendering="crispEdges"/>
<line x1="260.10" y1="397.50" x2="280.10" y2="397.50" stroke="#000" stroke-width="1" shape-rendering="crispEdges"/>
<line x1="262.00" y1="399.50" x2="277.80" y2="399.50" stroke="#000" stroke-width="1" shape-rendering="crispEdges"/>
<path d="M260.00,402 L260.00,429.5 Q260.40,433 263.90,433 L276.40,433 Q279.70,433 280.20,429.5 L280.20,402" fill="none" stroke="#000" stroke-width="1.1" />
<line x1="260.00" y1="402.00" x2="280.20" y2="402.00" stroke="#000" stroke-width="1" shape-rendering="crispEdges"/>
<line x1="260.40" y1="430.30" x2="279.80" y2="430.30" stroke="#000" stroke-width="1" shape-rendering="crispEdges"/>
<line x1="291.90" y1="361.60" x2="291.90" y2="376.50" stroke="#000" stroke-width="1" shape-rendering="crispEdges"/>
<line x1="299.30" y1="361.60" x2="299.30" y2="376.50" stroke="#000" stroke-width="1" shape-rendering="crispEdges"/>
<line x1="296.90" y1="361.60" x2="296.90" y2="376.50" stroke="#000" stroke-width="1" shape-rendering="crispEdges"/>
<rect x="288.20" y="367.4" width="14.4" height="4.3" rx="1.5" fill="none" stroke="#000" stroke-width="1.1"/>
<line x1="288.50" y1="368.60" x2="302.50" y2="368.60" stroke="#000" stroke-width="1" shape-rendering="crispEdges"/>
<line x1="288.50" y1="370.60" x2="302.50" y2="370.60" stroke="#000" stroke-width="1" shape-rendering="crispEdges"/>
<line x1="284.20" y1="376.50" x2="284.20" y2="393.60" stroke="#000" stroke-width="1" shape-rendering="crispEdges"/>
<line x1="285.80" y1="376.50" x2="285.80" y2="393.60" stroke="#000" stroke-width="1" shape-rendering="crispEdges"/>
<line x1="303.60" y1="376.50" x2="303.60" y2="393.60" stroke="#000" stroke-width="1" shape-rendering="crispEdges"/>
<line x1="305.20" y1="376.50" x2="305.20" y2="393.60" stroke="#000" stroke-width="1" shape-rendering="crispEdges"/>
<line x1="284.20" y1="393.00" x2="305.20" y2="393.00" stroke="#000" stroke-width="2" shape-rendering="crispEdges"/>
<rect x="295" y="385" width="2" height="7" fill="#000" shape-rendering="crispEdges"/>
<line x1="287.10" y1="395.50" x2="302.90" y2="395.50" stroke="#000" stroke-width="1" shape-rendering="crispEdges"/>
<line x1="285.20" y1="397.50" x2="305.20" y2="397.50" stroke="#000" stroke-width="1" shape-rendering="crispEdges"/>
<line x1="287.10" y1="399.50" x2="302.90" y2="399.50" stroke="#000" stroke-width="1" shape-rendering="crispEdges"/>
<path d="M285.10,402 L285.10,429.5 Q285.50,433 289.00,433 L301.50,433 Q304.80,433 305.30,429.5 L305.30,402" fill="none" stroke="#000" stroke-width="1.1" />
<line x1="285.10" y1="402.00" x2="305.30" y2="402.00" stroke="#000" stroke-width="1" shape-rendering="crispEdges"/>
<line x1="285.50" y1="430.30" x2="304.90" y2="430.30" stroke="#000" stroke-width="1" shape-rendering="crispEdges"/>
<line x1="316.90" y1="361.60" x2="316.90" y2="376.50" stroke="#000" stroke-width="1" shape-rendering="crispEdges"/>
<line x1="324.30" y1="361.60" x2="324.30" y2="376.50" stroke="#000" stroke-width="1" shape-rendering="crispEdges"/>
<line x1="321.90" y1="361.60" x2="321.90" y2="376.50" stroke="#000" stroke-width="1" shape-rendering="crispEdges"/>
<rect x="313.20" y="367.4" width="14.4" height="4.3" rx="1.5" fill="none" stroke="#000" stroke-width="1.1"/>
<line x1="313.50" y1="368.60" x2="327.50" y2="368.60" stroke="#000" stroke-width="1" shape-rendering="crispEdges"/>
<line x1="313.50" y1="370.60" x2="327.50" y2="370.60" stroke="#000" stroke-width="1" shape-rendering="crispEdges"/>
<path d="M311.30,376.5 L311.30,372.4 L315.50,372.4 M325.50,373.4 L329.50,373.4 L329.50,376.5" fill="none" stroke="#000" stroke-width="1"  shape-rendering="crispEdges"/>
<line x1="317.50" y1="374.60" x2="324.50" y2="374.60" stroke="#000" stroke-width="1" shape-rendering="crispEdges" stroke-dasharray="3 1.5"/>
<line x1="309.20" y1="376.50" x2="309.20" y2="393.60" stroke="#000" stroke-width="1" shape-rendering="crispEdges"/>
<line x1="310.80" y1="376.50" x2="310.80" y2="393.60" stroke="#000" stroke-width="1" shape-rendering="crispEdges"/>
<line x1="328.60" y1="376.50" x2="328.60" y2="393.60" stroke="#000" stroke-width="1" shape-rendering="crispEdges"/>
<line x1="330.20" y1="376.50" x2="330.20" y2="393.60" stroke="#000" stroke-width="1" shape-rendering="crispEdges"/>
<line x1="309.20" y1="393.00" x2="330.20" y2="393.00" stroke="#000" stroke-width="2" shape-rendering="crispEdges"/>
<rect x="319" y="385" width="2" height="7" fill="#000" shape-rendering="crispEdges"/>
<line x1="312.10" y1="395.50" x2="327.90" y2="395.50" stroke="#000" stroke-width="1" shape-rendering="crispEdges"/>
<line x1="310.20" y1="397.50" x2="330.20" y2="397.50" stroke="#000" stroke-width="1" shape-rendering="crispEdges"/>
<line x1="312.10" y1="399.50" x2="327.90" y2="399.50" stroke="#000" stroke-width="1" shape-rendering="crispEdges"/>
<path d="M310.10,402 L310.10,429.5 Q310.50,433 314.00,433 L326.50,433 Q329.80,433 330.30,429.5 L330.30,402" fill="none" stroke="#000" stroke-width="1.1" />
<line x1="310.10" y1="402.00" x2="330.30" y2="402.00" stroke="#000" stroke-width="1" shape-rendering="crispEdges"/>
<line x1="310.50" y1="430.30" x2="329.90" y2="430.30" stroke="#000" stroke-width="1" shape-rendering="crispEdges"/>
<line x1="337.20" y1="241.50" x2="383.00" y2="241.50" stroke="#000" stroke-width="1" shape-rendering="crispEdges"/>
<line x1="337.20" y1="241.50" x2="337.20" y2="248.00" stroke="#000" stroke-width="1" shape-rendering="crispEdges"/>
<line x1="337.20" y1="352.60" x2="389.70" y2="352.60" stroke="#000" stroke-width="1" shape-rendering="crispEdges"/>
<line x1="337.20" y1="346.00" x2="337.20" y2="352.40" stroke="#000" stroke-width="1" shape-rendering="crispEdges"/>
<path d="M361.6,247.2 L364.3,244 L375,244 L377.2,247.2" fill="none" stroke="#000" stroke-width="1.2" />
<line x1="363.00" y1="245.60" x2="376.50" y2="245.60" stroke="#000" stroke-width="1" shape-rendering="crispEdges"/>
<path d="M360.8,347 L363.9,349.8 L375,349.8 L376.9,347 Z" fill="#000" stroke="#000" stroke-width="1" />
<line x1="369.80" y1="241.50" x2="369.80" y2="262.00" stroke="#000" stroke-width="1" shape-rendering="crispEdges"/>
<line x1="369.80" y1="265.60" x2="369.80" y2="294.00" stroke="#000" stroke-width="1" shape-rendering="crispEdges"/>
<line x1="369.80" y1="297.60" x2="369.80" y2="326.00" stroke="#000" stroke-width="1" shape-rendering="crispEdges"/>
<line x1="369.80" y1="329.60" x2="369.80" y2="350.00" stroke="#000" stroke-width="1" shape-rendering="crispEdges"/>
<line x1="304.90" y1="248.00" x2="304.90" y2="346.00" stroke="#000" stroke-width="1" shape-rendering="crispEdges"/>
<rect x="308.50" y="253.00" width="68.10" height="87.20" fill="none" stroke="#000" stroke-width="1" shape-rendering="crispEdges"/>
<rect x="312.90" y="258.40" width="59.60" height="76.80" fill="none" stroke="#000" stroke-width="1" shape-rendering="crispEdges"/>
<line x1="342.50" y1="263.80" x2="342.50" y2="335.20" stroke="#000" stroke-width="1" shape-rendering="crispEdges"/>
<rect x="382.50" y="233.40" width="7.20" height="8.00" fill="none" stroke="#000" stroke-width="1.2" shape-rendering="crispEdges"/>
<line x1="390.40" y1="233.40" x2="390.40" y2="245.40" stroke="#000" stroke-width="1.4" shape-rendering="crispEdges"/>
<line x1="383.80" y1="241.40" x2="383.80" y2="352.60" stroke="#000" stroke-width="2.4" shape-rendering="crispEdges"/>
<rect x="385.50" y="245.80" width="3.30" height="2.20" fill="none" stroke="#000" stroke-width="1" shape-rendering="crispEdges"/>
<rect x="385.50" y="250.70" width="3.30" height="2.30" fill="none" stroke="#000" stroke-width="1" shape-rendering="crispEdges"/>
<rect x="390.50" y="256.50" width="13.00" height="4.00" fill="none" stroke="#000" stroke-width="1.3" shape-rendering="crispEdges"/>
<line x1="390.00" y1="258.50" x2="407.00" y2="258.50" stroke="#000" stroke-width="1" shape-rendering="crispEdges"/>
<ellipse cx="402.4" cy="258.5" rx="1.2" ry="3.1" fill="none" stroke="#000" stroke-width="1"/>
<line x1="392.00" y1="258.00" x2="399.00" y2="258.00" stroke="#000" stroke-width="1" shape-rendering="crispEdges"/>
<line x1="390.40" y1="254.00" x2="390.40" y2="263.50" stroke="#000" stroke-width="1.6" shape-rendering="crispEdges"/>
<rect x="390.50" y="333.50" width="13.00" height="4.00" fill="none" stroke="#000" stroke-width="1.3" shape-rendering="crispEdges"/>
<line x1="390.00" y1="335.50" x2="407.00" y2="335.50" stroke="#000" stroke-width="1" shape-rendering="crispEdges"/>
<ellipse cx="402.4" cy="335.5" rx="1.2" ry="3.1" fill="none" stroke="#000" stroke-width="1"/>
<line x1="392.00" y1="335.00" x2="399.00" y2="335.00" stroke="#000" stroke-width="1" shape-rendering="crispEdges"/>
<line x1="390.40" y1="331.00" x2="390.40" y2="340.50" stroke="#000" stroke-width="1.6" shape-rendering="crispEdges"/>
<rect x="385.50" y="341.50" width="3.30" height="3.00" fill="none" stroke="#000" stroke-width="1" shape-rendering="crispEdges"/>
<line x1="384.00" y1="253.50" x2="389.70" y2="253.50" stroke="#000" stroke-width="1" shape-rendering="crispEdges"/>
<line x1="384.00" y1="263.50" x2="389.70" y2="263.50" stroke="#000" stroke-width="1" shape-rendering="crispEdges"/>
<line x1="384.00" y1="330.00" x2="389.70" y2="330.00" stroke="#000" stroke-width="1" shape-rendering="crispEdges"/>
<line x1="384.00" y1="340.50" x2="389.70" y2="340.50" stroke="#000" stroke-width="1" shape-rendering="crispEdges"/>
</svg>
</body></html>
